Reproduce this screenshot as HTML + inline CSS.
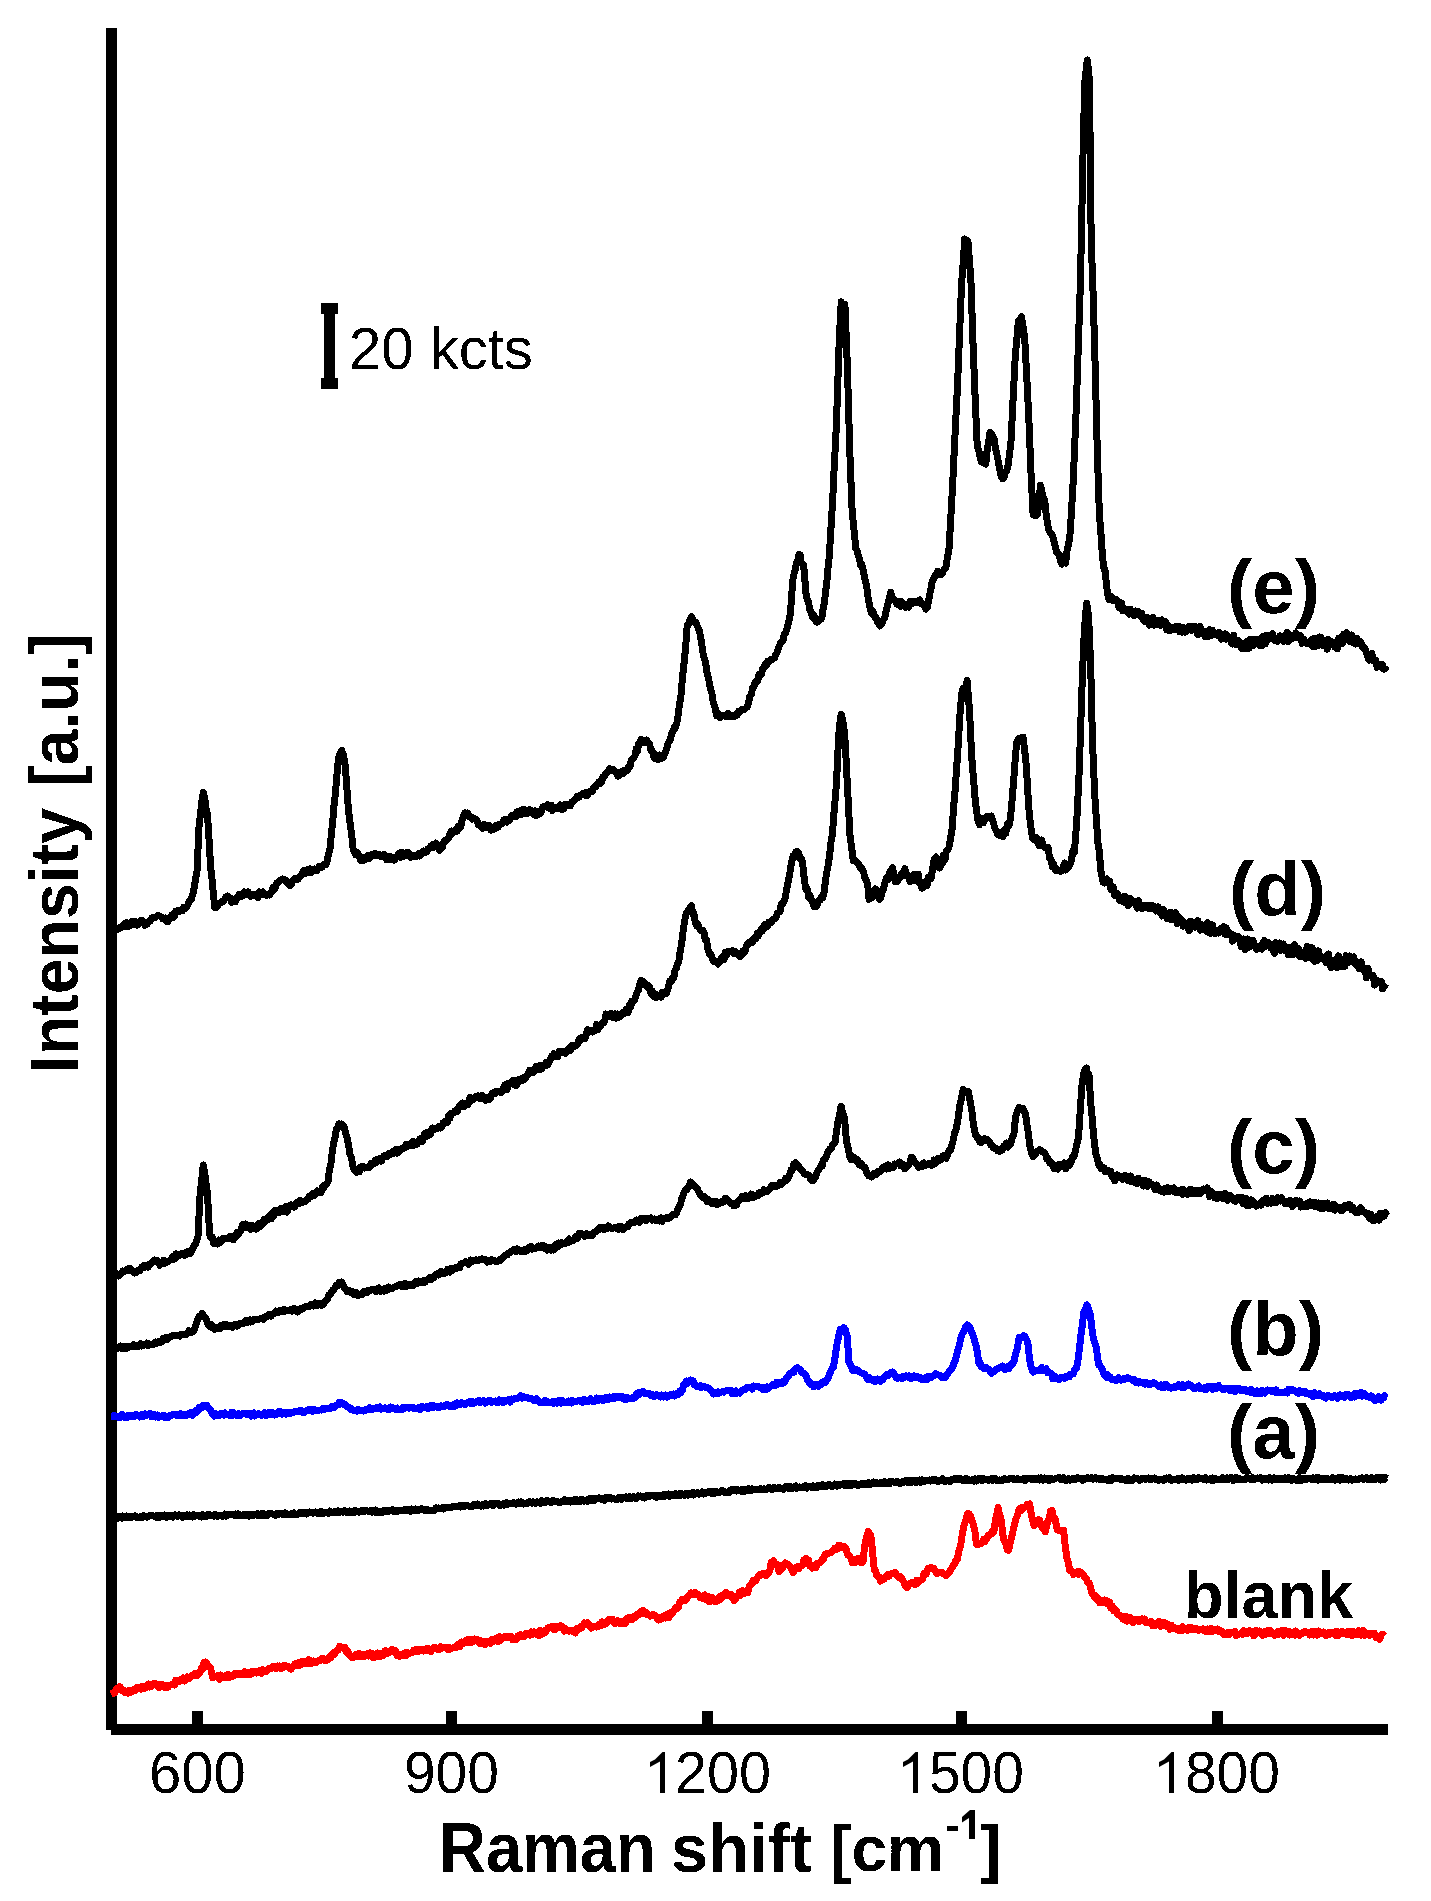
<!DOCTYPE html>
<html><head><meta charset="utf-8"><title>Raman spectra</title>
<style>html,body{margin:0;padding:0;background:#fff;width:1431px;height:1901px;overflow:hidden}svg{display:block}</style>
</head><body>
<svg width="1431" height="1901" viewBox="0 0 1431 1901"><defs><filter id="crisp" x="-10%" y="-10%" width="120%" height="120%"><feComponentTransfer><feFuncA type="discrete" tableValues="0 1"/></feComponentTransfer></filter></defs>
<rect x="0" y="0" width="1431" height="1901" fill="#fff"/>
<polyline points="111.0,930.0 112.3,928.1 113.5,931.6 114.8,931.1 116.0,928.5 117.3,929.6 118.6,928.6 119.9,927.3 121.3,927.3 122.6,925.5 123.8,926.8 125.0,923.1 126.2,922.7 127.4,926.6 128.6,924.4 129.8,925.9 131.0,924.4 132.2,921.6 133.4,923.5 134.6,924.6 135.8,921.8 137.0,925.1 138.2,924.6 139.4,922.3 140.8,920.1 142.2,920.3 143.6,923.1 144.9,925.2 146.3,922.6 147.7,923.4 149.1,920.9 150.4,920.9 151.8,917.9 153.1,917.8 154.5,917.8 155.8,917.0 157.2,916.0 158.5,915.4 159.9,916.2 161.2,916.8 162.6,918.8 163.9,918.7 165.3,918.1 166.6,921.3 167.9,921.8 169.2,919.2 170.5,918.5 171.8,915.0 173.1,917.9 174.4,916.0 175.7,911.1 177.0,911.8 178.3,910.2 179.7,911.4 181.0,910.5 182.3,910.9 183.6,907.5 184.9,908.8 186.3,907.2 187.6,905.5 188.9,901.6 190.2,900.2 191.5,898.8 192.8,894.0 194.2,888.1 195.6,878.7 197.0,871.0 199.1,824.8 200.5,814.4 201.9,800.8 203.3,792.3 204.7,798.3 206.1,808.5 207.5,814.3 209.1,840.1 210.6,866.8 212.0,878.7 213.4,894.2 214.8,907.6 216.1,907.6 217.3,906.4 218.6,903.8 219.8,903.1 221.1,902.4 222.4,901.2 223.6,901.3 224.9,898.7 226.1,896.8 227.4,896.1 228.8,898.1 230.2,897.9 231.6,902.4 232.9,899.0 234.1,901.3 235.4,901.7 236.6,898.7 237.9,896.6 239.2,894.4 240.4,895.1 241.7,896.5 242.9,894.3 244.2,891.9 245.5,892.5 246.7,894.6 248.0,891.8 249.2,893.7 250.5,896.3 251.8,894.8 253.0,894.6 254.3,894.1 255.5,895.9 256.8,896.1 258.0,897.6 259.3,891.9 260.5,895.1 261.8,894.5 263.0,892.0 264.3,894.6 265.5,894.4 266.8,895.4 268.0,894.5 269.3,895.0 270.6,893.5 271.9,891.0 273.2,887.2 274.6,889.6 275.9,886.2 277.2,882.5 278.5,882.2 279.8,880.4 281.2,880.0 282.6,878.9 284.0,879.3 285.3,879.8 286.5,882.0 287.8,883.7 289.0,884.9 290.3,885.6 291.6,884.0 292.8,880.4 294.1,880.1 295.3,878.5 296.6,879.2 297.9,879.3 299.1,877.6 300.4,876.3 301.6,875.0 302.9,872.0 304.1,870.6 305.4,873.6 306.6,872.6 307.9,869.4 309.1,869.0 310.4,868.9 311.6,872.6 312.9,869.9 314.1,869.1 315.4,871.0 316.7,870.9 318.0,868.6 319.3,866.4 320.6,866.1 322.0,867.2 323.3,864.5 324.6,864.3 325.9,864.7 327.3,860.2 328.7,853.3 330.1,847.9 331.4,833.3 332.8,820.5 334.1,804.5 335.4,793.4 336.9,775.0 338.5,757.7 340.1,753.6 341.7,750.4 343.2,754.6 344.8,762.0 346.4,780.9 348.0,803.9 349.3,817.5 350.6,827.0 351.9,836.9 353.2,850.0 354.4,852.1 355.6,854.7 356.8,852.0 358.0,853.5 359.2,855.6 360.4,860.2 361.6,860.5 362.9,857.9 364.2,860.0 365.5,859.1 366.8,857.6 368.1,855.1 369.4,858.3 370.7,856.6 372.0,854.2 373.3,854.6 374.6,853.3 375.9,855.8 377.2,854.7 378.6,855.9 379.9,854.8 381.2,856.7 382.5,856.3 383.8,854.2 385.1,855.8 386.4,859.6 387.8,859.3 389.1,856.6 390.4,859.8 391.7,857.1 393.0,858.4 394.3,860.2 395.5,858.6 396.8,856.4 398.0,855.0 399.3,853.1 400.6,857.2 401.8,852.2 403.1,855.9 404.3,856.1 405.6,853.1 406.9,853.9 408.1,852.3 409.4,856.5 410.6,857.5 411.9,856.5 413.2,855.9 414.4,855.7 415.7,856.8 417.1,855.4 418.4,854.0 419.8,855.9 421.1,854.0 422.5,852.2 423.8,851.1 425.2,852.6 426.6,852.1 428.0,848.7 429.4,848.4 430.7,846.1 432.1,847.6 433.5,844.2 434.7,847.0 436.0,843.0 437.2,844.7 438.4,846.1 439.7,850.3 440.9,848.4 442.2,847.7 443.6,843.0 444.9,840.1 446.3,840.4 447.6,839.0 449.0,837.3 450.3,832.7 451.6,831.1 452.9,833.2 454.2,831.3 455.6,829.5 456.9,831.4 458.2,826.5 459.5,828.4 460.8,826.4 462.2,819.6 463.6,815.5 465.0,812.8 466.4,815.9 467.8,813.0 469.2,816.8 470.6,816.8 472.0,819.0 473.4,818.0 474.6,818.5 475.8,819.6 477.0,820.6 478.3,824.9 479.5,824.7 480.7,825.4 482.0,828.2 483.3,828.2 484.5,824.5 485.8,827.1 487.1,825.0 488.4,825.0 489.6,825.5 490.9,830.1 492.2,828.5 493.4,829.5 494.6,829.1 495.8,825.8 497.0,826.7 498.2,827.0 499.4,824.2 500.6,824.3 501.9,823.8 503.1,821.1 504.4,819.5 505.6,819.7 506.9,822.2 508.2,819.6 509.4,820.7 510.7,817.3 511.9,815.5 513.2,815.9 514.5,816.9 515.7,816.7 517.0,811.7 518.2,814.8 519.5,811.1 520.8,810.7 522.0,814.4 523.3,809.2 524.5,809.8 525.8,810.7 527.1,813.7 528.4,811.0 529.6,809.6 530.9,810.3 532.2,811.0 533.5,814.1 534.7,810.9 536.0,815.7 537.3,813.8 538.5,811.9 539.8,814.0 541.0,812.4 542.2,807.8 543.5,806.4 544.7,806.5 546.0,806.6 547.3,804.8 548.6,808.1 549.9,805.0 551.2,805.1 552.5,810.7 553.8,807.2 555.1,808.6 556.4,808.8 557.6,807.7 558.9,806.6 560.1,804.9 561.4,809.3 562.7,809.3 563.9,809.0 565.2,804.0 566.4,804.2 567.7,805.5 569.1,804.9 570.5,805.7 571.9,802.0 573.3,801.6 574.7,800.2 576.1,798.1 577.5,796.2 578.9,797.3 580.3,795.5 581.7,794.6 583.1,793.2 584.5,795.0 585.8,792.8 587.1,795.8 588.3,791.9 589.6,792.1 590.9,791.1 592.2,791.8 593.4,787.9 594.7,786.5 596.0,786.6 597.4,783.9 598.8,782.1 600.2,783.3 601.6,781.8 603.0,776.8 604.4,776.1 605.7,773.4 607.0,772.7 608.3,771.1 609.6,768.8 611.0,770.6 612.4,769.8 613.8,769.8 615.2,772.2 616.6,772.5 618.0,776.1 619.4,775.5 620.8,772.0 622.2,771.1 623.6,773.4 625.0,770.6 626.4,770.9 627.6,770.3 628.9,766.3 630.1,766.1 631.3,759.8 632.6,759.5 633.8,757.2 635.0,755.9 636.2,748.9 637.5,750.8 638.7,743.5 639.9,743.9 641.1,739.4 642.5,742.8 643.9,742.6 645.3,740.5 646.7,740.0 648.1,743.0 649.5,743.6 650.9,750.2 652.3,750.8 653.7,756.2 655.1,758.8 656.5,754.9 657.9,759.6 659.3,755.0 660.7,756.9 662.1,758.3 663.3,757.4 664.6,753.7 665.8,751.2 667.1,747.7 668.3,742.6 669.5,741.3 670.7,738.3 671.9,732.7 673.1,731.4 674.3,727.2 675.5,727.6 676.7,723.7 678.1,715.5 679.5,704.1 680.9,696.4 682.5,677.2 684.1,662.9 685.7,646.7 687.2,625.2 688.6,624.1 690.0,619.9 691.4,616.8 692.8,618.8 694.1,622.3 695.5,622.0 696.9,625.1 698.3,628.1 699.7,632.0 701.5,642.6 703.3,655.1 704.5,659.1 705.7,663.2 706.9,672.2 708.1,676.8 709.3,682.4 710.5,689.3 711.8,692.5 713.0,701.0 714.2,705.0 715.4,708.7 716.6,715.6 717.8,713.5 719.0,714.2 720.2,717.5 721.5,715.0 722.7,715.0 723.9,715.6 725.3,716.4 726.7,714.5 728.1,713.4 729.5,716.6 730.9,716.6 732.3,716.8 733.5,716.9 734.7,714.9 736.0,715.5 737.2,715.0 738.4,711.4 739.6,712.1 740.8,711.3 742.0,709.0 743.3,709.3 744.5,709.4 745.7,708.3 747.1,707.0 748.5,703.4 749.9,696.1 751.3,694.6 752.7,687.5 754.1,686.5 755.3,681.6 756.5,681.7 757.7,681.4 758.9,674.9 760.2,675.9 761.4,674.2 762.6,668.5 763.8,668.2 765.0,664.7 766.2,665.5 767.4,661.5 768.6,662.2 769.8,661.2 771.0,659.2 772.3,659.5 773.5,658.5 774.7,657.7 775.9,654.2 777.1,652.6 778.3,648.0 779.5,645.6 780.7,642.7 782.0,642.0 783.2,640.3 784.4,633.5 785.6,633.3 787.2,627.9 788.8,621.6 790.4,613.9 792.8,580.0 794.0,574.0 795.2,569.9 796.5,562.8 797.7,561.0 798.9,554.6 800.1,554.7 801.3,562.8 802.5,564.6 803.7,565.5 806.1,594.6 807.3,599.6 808.5,601.7 809.8,609.7 811.0,611.5 812.6,617.5 814.2,615.8 815.8,621.2 817.0,622.1 818.2,621.8 819.5,620.0 820.7,619.5 821.9,617.6 823.1,608.8 824.3,603.2 825.5,592.2 826.7,583.8 827.9,568.9 829.1,558.3 830.3,540.0 831.6,517.6 832.8,497.8 834.0,471.5 835.2,448.3 836.4,425.2 838.8,352.6 840.0,324.9 841.2,301.8 842.4,305.1 843.7,306.3 844.9,304.2 847.3,364.7 848.5,404.7 849.7,449.4 852.1,509.9 853.3,523.4 854.6,535.1 855.8,548.6 857.0,550.0 858.2,554.9 859.4,558.4 860.6,565.4 861.8,564.4 863.0,569.4 864.2,575.2 865.4,581.6 866.6,585.7 867.9,596.4 869.1,603.0 870.3,609.1 871.5,613.4 872.7,611.4 873.9,614.0 875.1,617.8 876.4,618.2 877.6,622.3 878.8,622.3 880.0,626.0 881.2,624.3 882.4,622.1 883.6,619.3 884.8,617.5 886.0,611.5 887.6,605.4 889.2,598.6 890.8,592.2 892.0,597.0 893.2,598.8 894.5,599.9 895.7,601.0 896.9,604.2 898.1,602.7 899.3,601.6 900.5,606.3 901.7,601.6 903.0,605.9 904.2,604.5 905.4,607.4 906.6,606.0 907.8,604.2 909.0,607.1 910.2,601.1 911.4,603.3 912.6,603.5 913.9,601.4 915.1,602.4 916.3,601.1 917.5,601.8 918.7,602.8 919.9,599.9 921.1,603.7 922.3,604.5 923.5,604.3 924.7,605.7 925.9,609.1 927.1,607.9 928.3,602.8 929.5,595.1 930.8,589.9 932.0,582.5 933.4,579.3 934.9,575.8 936.3,575.6 937.5,571.2 938.7,572.2 939.9,573.6 941.1,574.7 942.3,573.5 943.5,570.3 944.7,569.3 946.1,566.5 947.5,556.4 948.9,550.4 951.0,514.6 952.6,485.5 954.2,451.5 955.8,419.2 957.4,388.3 959.5,335.7 961.6,283.1 963.2,262.8 964.7,238.9 966.3,243.6 967.9,241.0 969.5,260.6 971.0,283.1 973.1,346.2 975.2,398.9 977.3,447.2 978.7,449.7 980.2,458.0 981.6,462.0 983.0,462.9 984.4,462.3 985.8,464.1 987.2,449.8 988.6,442.2 990.0,432.5 991.4,434.0 992.8,436.0 994.2,438.8 995.6,449.3 997.0,454.9 998.4,462.0 999.8,469.4 1001.2,476.3 1002.6,478.8 1003.9,477.6 1005.2,472.4 1006.6,471.3 1007.9,466.2 1009.5,454.6 1011.0,440.9 1013.1,398.9 1015.2,356.8 1016.8,340.1 1018.4,321.0 1020.0,319.9 1021.5,316.8 1023.1,326.6 1024.7,337.8 1026.8,377.8 1028.9,419.9 1031.0,472.5 1033.1,514.6 1034.5,515.6 1035.9,515.7 1037.3,514.6 1038.9,503.4 1040.5,485.1 1041.9,492.3 1043.3,497.8 1044.7,499.9 1046.2,514.7 1047.8,525.1 1049.1,531.0 1050.3,532.7 1051.6,533.9 1052.8,536.6 1054.1,541.9 1055.4,547.4 1056.7,552.6 1057.9,553.7 1059.2,554.2 1060.5,560.9 1061.8,564.2 1063.1,561.8 1064.4,562.2 1065.7,563.0 1067.1,550.1 1068.5,544.8 1069.9,535.6 1071.5,511.4 1073.1,483.0 1074.7,445.5 1076.2,409.4 1078.3,346.2 1080.4,283.1 1081.3,240.0 1082.5,180.0 1083.5,130.0 1085.0,80.0 1087.3,60.0 1089.0,75.0 1090.0,130.0 1090.5,180.0 1091.2,240.0 1093.1,293.6 1095.2,367.3 1097.3,451.5 1099.4,514.6 1101.0,534.4 1102.5,556.7 1103.8,567.5 1105.2,571.4 1106.5,585.1 1107.8,594.5 1109.0,599.5 1110.3,598.3 1111.5,596.8 1112.7,600.4 1114.0,600.8 1115.2,600.9 1116.5,599.5 1117.8,600.7 1119.0,607.8 1120.3,603.5 1121.6,603.0 1122.9,610.8 1124.1,609.3 1125.4,609.1 1126.7,611.4 1127.9,611.7 1129.1,614.0 1130.4,609.1 1131.6,613.7 1132.8,614.5 1134.0,615.6 1135.3,611.0 1136.5,614.3 1137.7,613.5 1139.0,612.0 1140.3,615.9 1141.6,613.3 1143.0,619.8 1144.3,621.4 1145.6,617.4 1146.9,617.4 1148.2,620.8 1149.4,625.2 1150.7,623.0 1151.9,624.5 1153.1,617.2 1154.3,625.3 1155.6,623.0 1156.8,620.3 1158.0,621.6 1159.2,624.8 1160.5,625.2 1161.7,619.9 1162.9,622.9 1164.2,624.9 1165.5,621.4 1166.8,629.7 1168.2,625.5 1169.5,630.7 1170.8,629.8 1172.1,629.4 1173.4,629.2 1174.6,627.1 1175.8,629.6 1177.1,626.1 1178.3,626.1 1179.5,631.6 1180.7,628.4 1181.9,632.2 1183.1,627.4 1184.3,632.0 1185.6,632.1 1186.8,628.3 1188.0,630.2 1189.2,626.5 1190.5,629.4 1191.7,630.4 1192.9,626.7 1194.1,627.7 1195.3,626.5 1196.6,631.8 1197.8,634.7 1199.0,628.3 1200.2,626.6 1201.5,633.2 1202.7,631.3 1203.9,634.7 1205.2,636.5 1206.4,633.4 1207.6,631.2 1208.8,636.3 1210.1,629.7 1211.3,635.6 1212.5,630.2 1213.7,633.5 1215.0,634.8 1216.2,634.0 1217.4,635.5 1218.7,632.5 1219.9,633.3 1221.2,639.3 1222.4,636.0 1223.7,637.3 1225.0,633.9 1226.2,639.1 1227.5,635.5 1228.7,638.3 1230.0,637.6 1231.3,642.4 1232.5,644.0 1233.8,635.3 1235.0,643.5 1236.3,644.8 1237.6,640.2 1238.8,641.5 1240.1,644.2 1241.3,648.4 1242.6,644.9 1243.8,643.8 1245.1,648.5 1246.3,647.2 1247.6,641.0 1248.8,648.6 1250.1,639.4 1251.3,640.6 1252.6,645.8 1253.8,639.5 1255.1,643.9 1256.4,642.3 1257.6,639.3 1258.9,642.3 1260.1,645.7 1261.4,645.9 1262.7,636.6 1263.9,636.5 1265.2,644.0 1266.4,635.4 1267.7,639.7 1268.9,637.1 1270.2,635.2 1271.4,634.7 1272.6,633.8 1273.8,639.8 1275.1,640.6 1276.3,639.8 1277.5,641.1 1278.7,639.0 1280.0,635.9 1281.2,638.1 1282.4,636.5 1283.6,641.5 1284.9,638.2 1286.1,634.1 1287.3,632.3 1288.5,641.5 1289.8,638.0 1291.0,635.6 1292.2,638.3 1293.4,638.0 1294.6,637.6 1295.9,632.9 1297.1,637.6 1298.3,636.5 1299.6,637.5 1300.8,635.7 1302.1,643.3 1303.3,638.9 1304.6,641.8 1305.8,642.8 1307.1,643.5 1308.3,643.7 1309.6,641.8 1310.9,644.5 1312.1,639.1 1313.4,646.9 1314.6,638.1 1315.9,646.3 1317.2,645.6 1318.4,645.6 1319.7,637.0 1320.9,637.4 1322.2,641.8 1323.5,645.7 1324.7,642.5 1326.0,642.0 1327.2,649.1 1328.5,639.4 1329.8,645.3 1331.0,644.8 1332.3,641.9 1333.5,645.3 1334.8,647.0 1336.1,648.1 1337.4,648.8 1338.7,638.3 1340.0,642.6 1341.4,636.6 1342.7,643.2 1344.0,634.2 1345.3,637.6 1346.6,632.8 1347.8,636.9 1349.1,641.1 1350.3,636.8 1351.6,635.1 1352.9,642.7 1354.1,643.2 1355.4,644.0 1356.6,638.2 1357.9,640.7 1359.3,641.8 1360.7,641.7 1362.1,647.1 1363.4,646.5 1364.8,648.5 1366.2,652.2 1367.6,656.8 1369.0,660.1 1370.4,657.3 1371.8,653.4 1373.2,660.9 1374.6,660.6 1375.9,660.6 1377.2,667.3 1378.5,664.8 1379.8,666.7 1381.0,665.8 1382.3,664.5 1383.6,669.2 1384.9,669.1 1386.2,665.9" fill="none" stroke="#000" stroke-width="7" stroke-linejoin="round" stroke-linecap="butt" shape-rendering="crispEdges"/>
<polyline points="111.0,1276.0 112.3,1278.2 113.5,1277.9 114.8,1273.1 116.0,1273.0 117.3,1275.0 118.7,1276.0 120.0,1274.7 121.4,1273.7 122.7,1271.0 124.1,1271.8 125.4,1271.1 126.8,1269.8 128.1,1270.3 129.3,1268.2 130.6,1269.8 131.8,1269.7 133.1,1271.5 134.4,1273.1 135.6,1272.9 136.9,1270.9 138.1,1270.5 139.4,1270.9 140.7,1268.8 141.9,1266.8 143.2,1265.9 144.4,1267.4 145.7,1265.7 146.9,1265.2 148.2,1267.1 149.4,1264.3 150.7,1263.7 151.9,1262.5 153.2,1261.1 154.5,1260.0 155.8,1261.6 157.2,1260.6 158.5,1262.6 159.8,1265.2 161.1,1263.4 162.4,1262.5 163.6,1260.2 164.8,1263.4 166.1,1262.2 167.3,1261.3 168.5,1261.6 169.8,1260.2 171.0,1259.7 172.2,1256.8 173.4,1259.5 174.7,1258.8 175.9,1253.9 177.1,1255.1 178.3,1256.1 179.6,1255.6 180.8,1253.8 182.0,1253.9 183.2,1253.3 184.4,1255.3 185.7,1252.7 186.9,1254.1 188.1,1251.2 189.4,1253.7 190.6,1253.4 191.8,1250.9 193.0,1247.8 194.3,1245.4 195.5,1244.4 196.8,1240.4 198.0,1236.3 200.1,1194.3 201.7,1179.6 203.3,1165.0 204.7,1173.2 206.1,1183.6 207.5,1194.3 209.6,1234.2 210.9,1237.6 212.2,1237.1 213.5,1243.5 214.8,1243.6 216.2,1241.5 217.6,1244.1 219.0,1240.0 220.4,1242.7 221.8,1240.4 223.2,1238.4 224.5,1238.3 225.7,1238.3 227.0,1238.9 228.2,1238.4 229.5,1236.8 230.8,1236.1 232.0,1237.7 233.3,1239.9 234.5,1238.1 235.8,1237.3 237.1,1232.6 238.3,1234.5 239.6,1231.7 240.8,1230.4 242.1,1225.8 243.4,1224.3 244.6,1227.6 245.9,1224.0 247.1,1227.5 248.4,1225.6 249.7,1225.5 250.9,1229.4 252.2,1225.3 253.4,1227.8 254.7,1227.9 256.0,1229.1 257.3,1224.9 258.6,1223.9 259.9,1226.9 261.2,1223.5 262.5,1224.4 263.8,1219.7 265.1,1221.6 266.4,1219.8 267.6,1217.6 268.9,1219.4 270.1,1215.0 271.4,1218.9 272.7,1212.6 273.9,1215.6 275.2,1210.5 276.4,1210.8 277.7,1211.1 279.0,1212.6 280.3,1208.6 281.6,1208.5 282.9,1211.1 284.3,1209.1 285.6,1206.9 286.9,1212.1 288.2,1209.0 289.5,1206.4 290.8,1205.0 292.1,1206.2 293.4,1207.1 294.8,1207.1 296.1,1202.9 297.4,1203.5 298.7,1203.8 300.0,1200.2 301.3,1201.7 302.6,1202.6 303.9,1201.5 305.3,1201.5 306.6,1199.7 307.9,1199.4 309.2,1196.4 310.5,1197.1 311.8,1195.2 313.1,1193.2 314.4,1195.2 315.7,1192.7 317.0,1190.9 318.3,1192.4 319.6,1192.2 321.0,1192.6 322.4,1186.6 323.8,1187.5 325.2,1184.6 326.6,1183.6 328.0,1181.8 329.4,1169.9 330.8,1164.9 332.2,1152.4 333.6,1143.3 335.0,1137.7 336.4,1129.4 337.7,1127.6 339.0,1123.9 340.4,1125.8 341.7,1124.1 343.1,1125.1 344.4,1127.8 345.8,1133.5 347.2,1137.8 348.6,1145.5 350.0,1154.5 351.4,1157.3 352.8,1165.8 354.2,1170.2 355.5,1169.9 356.8,1172.4 358.1,1171.7 359.4,1171.8 360.6,1166.9 361.9,1167.8 363.2,1166.3 364.5,1168.0 365.8,1167.1 367.1,1167.3 368.4,1167.8 369.7,1166.8 371.0,1163.6 372.3,1164.0 373.6,1164.1 374.9,1160.5 376.2,1162.9 377.5,1159.3 378.8,1160.8 380.1,1158.2 381.4,1161.1 382.8,1157.4 384.1,1155.8 385.4,1155.5 386.7,1156.6 388.0,1154.3 389.2,1153.4 390.5,1154.5 391.7,1153.5 393.0,1151.8 394.3,1153.1 395.5,1149.8 396.8,1153.2 398.0,1152.8 399.3,1149.3 400.6,1150.2 402.0,1148.0 403.3,1148.0 404.7,1148.0 406.0,1144.3 407.4,1146.1 408.7,1146.1 409.9,1145.6 411.2,1142.8 412.4,1141.7 413.6,1145.3 414.9,1142.0 416.1,1142.3 417.3,1144.0 418.5,1141.5 419.8,1138.9 421.0,1139.5 422.2,1141.5 423.5,1136.8 424.8,1133.7 426.0,1136.8 427.2,1132.3 428.5,1132.6 429.8,1134.9 431.0,1133.0 432.2,1128.0 433.5,1130.0 434.9,1129.2 436.3,1128.4 437.7,1128.4 439.1,1126.1 440.5,1128.0 441.9,1126.9 443.2,1122.6 444.5,1122.2 445.8,1121.0 447.1,1122.8 448.5,1115.8 449.8,1118.3 451.1,1113.1 452.4,1113.3 453.7,1112.8 454.9,1110.7 456.2,1110.2 457.4,1111.1 458.7,1107.9 460.0,1105.2 461.2,1104.3 462.5,1103.1 463.7,1106.9 465.0,1103.8 466.3,1103.8 467.6,1104.8 468.9,1102.3 470.2,1097.2 471.6,1100.2 472.9,1100.1 474.2,1098.8 475.5,1096.5 476.8,1096.6 478.0,1095.8 479.2,1096.5 480.5,1098.8 481.8,1095.5 483.0,1097.3 484.2,1097.1 485.5,1100.2 486.8,1099.3 488.0,1097.5 489.3,1099.4 490.6,1098.1 491.9,1093.9 493.2,1092.7 494.6,1093.6 495.9,1091.3 497.2,1091.6 498.5,1091.3 499.8,1091.7 501.0,1092.5 502.3,1089.6 503.5,1090.4 504.8,1085.0 506.1,1085.9 507.3,1089.3 508.6,1083.1 509.8,1084.1 511.1,1083.9 512.4,1080.8 513.7,1080.5 515.0,1085.3 516.4,1085.5 517.7,1082.9 519.0,1079.2 520.3,1079.9 521.6,1080.8 522.9,1077.8 524.2,1079.3 525.5,1078.0 526.9,1075.2 528.2,1074.4 529.5,1070.4 530.8,1071.9 532.1,1070.3 533.4,1072.7 534.7,1070.9 536.0,1066.1 537.4,1068.3 538.7,1069.1 540.0,1065.6 541.3,1069.2 542.6,1066.1 543.9,1064.8 545.1,1065.3 546.4,1062.3 547.6,1065.1 548.9,1062.7 550.1,1060.3 551.4,1056.4 552.6,1057.3 553.9,1053.6 555.1,1055.6 556.4,1055.6 557.6,1056.8 558.9,1051.6 560.1,1053.1 561.4,1052.3 562.7,1051.2 563.9,1052.6 565.2,1053.4 566.4,1051.3 567.7,1049.3 569.0,1048.2 570.3,1050.5 571.6,1045.5 573.0,1047.3 574.3,1045.8 575.6,1045.5 576.9,1045.2 578.2,1042.0 579.5,1038.9 580.8,1040.2 582.1,1037.4 583.5,1037.8 584.8,1038.6 586.1,1035.0 587.4,1029.6 588.7,1031.5 590.0,1030.6 591.3,1031.6 592.6,1032.1 594.0,1029.9 595.3,1030.3 596.6,1024.4 597.9,1029.9 599.2,1026.3 600.6,1025.9 602.0,1023.1 603.4,1023.2 604.7,1021.1 606.1,1014.0 607.5,1014.7 608.8,1017.0 610.0,1016.9 611.3,1013.3 612.5,1017.2 613.8,1016.3 615.1,1013.9 616.3,1018.2 617.6,1014.0 618.8,1017.3 620.1,1016.8 621.4,1015.2 622.7,1012.8 624.0,1013.7 625.4,1011.9 626.7,1008.9 628.0,1012.9 629.3,1005.7 630.6,1007.4 631.9,1001.1 633.1,1001.4 634.4,1000.8 635.6,996.7 636.9,992.7 638.3,990.2 639.7,984.2 641.1,980.1 642.4,982.8 643.6,981.9 644.9,983.0 646.1,986.0 647.4,987.5 648.6,985.7 649.8,987.5 651.0,993.4 652.3,990.9 653.5,996.2 654.7,995.9 656.0,997.6 657.3,994.8 658.5,996.4 659.8,996.9 661.1,997.2 662.4,992.0 663.6,992.0 664.9,993.2 666.2,993.8 667.5,990.4 668.7,986.1 670.0,981.0 671.2,981.6 672.5,978.0 673.8,977.9 675.0,970.4 676.3,968.2 677.5,963.8 678.8,961.3 680.2,951.1 681.6,944.2 683.0,931.9 684.6,921.2 686.2,913.1 687.5,912.3 688.8,909.3 690.1,907.8 691.4,905.7 692.7,914.0 693.9,913.6 695.2,922.0 696.5,925.7 697.7,923.6 699.0,927.5 700.2,930.0 701.5,930.6 702.7,930.3 704.0,932.5 705.3,940.1 706.6,940.2 707.9,949.2 709.2,953.5 710.5,954.2 711.7,956.7 713.0,960.4 714.2,961.6 715.5,961.9 716.7,961.2 718.0,964.0 719.2,960.6 720.4,960.7 721.6,957.6 722.8,956.3 724.0,959.6 725.2,952.1 726.4,955.6 727.6,951.8 728.9,951.3 730.1,951.6 731.4,951.7 732.6,950.4 733.9,953.4 735.1,951.7 736.4,954.0 737.6,953.4 738.9,955.2 740.1,956.8 741.3,955.7 742.6,951.1 743.8,951.3 745.0,952.1 746.2,946.7 747.4,943.8 748.7,943.6 749.9,942.0 751.1,943.0 752.3,942.7 753.6,939.0 754.8,937.3 756.0,938.8 757.2,933.3 758.5,935.8 759.7,933.0 760.9,929.7 762.2,931.2 763.4,927.3 764.7,924.9 765.9,927.4 767.2,926.5 768.5,922.2 769.8,922.3 771.0,922.9 772.3,920.1 773.6,918.9 774.9,918.5 776.1,917.7 777.4,913.3 778.7,912.5 780.0,911.5 781.3,904.0 782.6,903.7 783.9,901.4 785.2,897.6 786.7,889.1 788.1,881.7 789.6,874.9 791.4,863.0 793.1,855.7 794.5,857.5 796.0,851.7 797.4,851.3 798.9,853.8 800.3,859.4 801.8,859.2 803.1,867.4 804.4,880.1 805.9,889.3 807.3,889.0 808.8,897.6 810.0,895.5 811.2,899.3 812.5,900.8 813.7,906.3 814.9,904.6 816.2,906.3 817.5,904.2 818.8,900.6 820.2,900.3 821.5,896.8 822.8,897.6 824.1,892.2 825.4,881.0 826.7,872.4 828.0,866.1 829.5,856.7 830.9,842.5 832.4,834.7 834.1,811.5 835.9,791.0 837.2,768.1 838.5,738.6 839.8,723.3 841.1,714.2 842.9,721.0 844.6,733.4 845.9,755.6 847.2,782.3 848.5,806.6 849.9,834.7 851.6,847.2 853.3,860.9 854.6,860.1 855.9,862.0 857.2,862.4 858.6,863.5 859.9,867.6 861.2,867.9 862.5,869.7 863.8,873.0 865.1,879.2 866.4,880.1 867.8,886.2 869.1,899.3 870.3,894.4 871.5,898.0 872.8,892.5 874.0,893.2 875.2,888.9 876.6,889.4 878.1,896.0 879.5,899.3 880.7,898.3 882.0,890.3 883.2,890.0 884.5,884.8 885.7,880.1 887.1,876.8 888.5,879.3 889.9,871.9 891.3,870.1 892.7,867.9 894.0,875.9 895.3,881.9 896.5,878.7 897.7,881.4 898.9,877.8 900.1,876.1 901.3,874.0 902.5,876.1 903.7,874.5 904.9,868.8 906.2,874.9 907.5,875.0 908.8,877.9 910.1,881.9 911.5,880.7 912.9,875.2 914.3,874.4 915.7,880.5 917.1,874.9 918.3,874.2 919.5,883.5 920.8,883.8 922.0,888.2 923.2,887.1 924.5,882.0 925.8,882.5 927.2,885.3 928.5,877.0 929.8,876.4 931.1,878.4 932.3,870.6 933.5,862.5 934.7,858.8 936.0,857.0 937.2,862.8 938.5,859.0 939.7,868.0 941.0,865.1 942.3,863.5 943.6,855.3 945.0,860.0 946.3,851.3 947.6,850.5 948.9,847.8 950.5,838.8 952.1,828.8 953.7,805.9 955.2,789.4 956.8,765.7 958.4,742.0 960.0,714.4 961.6,694.7 963.0,688.4 964.4,691.4 965.7,687.0 967.1,680.5 969.5,710.5 971.8,757.8 973.4,777.8 975.0,797.3 976.5,810.8 978.1,820.9 979.5,824.8 980.9,818.4 982.3,822.0 983.7,822.5 985.0,818.1 986.2,817.0 987.5,816.0 988.7,816.0 990.0,817.8 991.3,816.1 992.5,820.2 993.8,824.2 995.0,829.0 996.3,830.4 997.6,834.3 999.0,835.2 1000.3,833.8 1001.7,832.3 1003.0,836.7 1004.4,829.9 1005.7,833.6 1007.3,824.5 1008.9,826.1 1010.5,817.8 1012.0,800.9 1013.6,781.5 1015.2,758.9 1016.8,742.0 1018.1,739.9 1019.3,738.1 1020.6,738.5 1021.8,737.5 1023.1,737.3 1024.7,750.5 1026.3,765.7 1028.6,805.2 1029.9,819.2 1031.3,830.3 1032.6,838.3 1033.9,839.5 1035.2,839.1 1036.5,837.8 1037.9,843.1 1039.2,845.8 1040.5,841.5 1041.8,840.1 1043.0,846.1 1044.3,847.3 1045.5,848.1 1046.8,847.8 1048.2,847.8 1049.5,857.8 1050.9,859.0 1052.3,866.7 1053.7,864.4 1055.0,869.1 1056.4,870.6 1057.8,869.9 1059.2,870.7 1060.5,871.5 1061.9,870.6 1063.2,867.8 1064.6,863.0 1065.9,870.0 1067.3,866.7 1068.7,867.2 1070.1,864.5 1071.6,859.2 1073.0,850.6 1074.4,852.5 1076.8,820.9 1079.1,773.6 1080.7,726.2 1082.3,678.9 1083.9,639.5 1085.3,618.2 1086.7,603.2 1088.1,613.3 1089.4,631.6 1091.0,678.9 1092.5,742.0 1093.7,771.1 1094.9,797.3 1096.5,821.4 1098.1,844.6 1099.4,851.8 1100.7,870.5 1102.0,876.2 1103.3,882.6 1104.5,883.0 1105.8,879.6 1107.0,879.0 1108.3,882.5 1109.6,881.1 1110.8,889.5 1112.1,889.9 1113.4,887.0 1114.7,895.5 1115.9,893.6 1117.2,893.7 1118.5,895.4 1119.7,900.5 1121.0,899.8 1122.2,899.5 1123.5,902.0 1124.8,896.3 1126.0,902.9 1127.2,898.3 1128.5,905.6 1129.8,898.1 1131.0,899.6 1132.2,902.1 1133.5,901.9 1134.7,901.2 1136.0,903.2 1137.2,908.2 1138.4,900.7 1139.6,907.6 1140.8,907.2 1142.1,908.8 1143.3,905.5 1144.5,906.1 1145.8,905.4 1147.0,907.4 1148.2,908.2 1149.5,905.8 1150.7,905.4 1152.0,908.9 1153.2,906.0 1154.5,909.5 1155.8,910.9 1157.0,908.3 1158.3,907.0 1159.5,912.3 1160.8,911.4 1162.1,916.0 1163.3,909.3 1164.6,914.3 1165.8,915.3 1167.1,918.4 1168.4,916.6 1169.6,912.8 1170.9,912.2 1172.1,920.0 1173.4,916.6 1174.6,915.2 1175.8,912.7 1177.1,923.5 1178.3,916.6 1179.5,918.8 1180.7,919.7 1181.9,919.9 1183.1,926.2 1184.3,922.6 1185.6,924.7 1186.8,925.3 1188.0,927.1 1189.2,930.8 1190.5,921.1 1191.7,927.5 1192.9,922.1 1194.1,922.1 1195.3,927.3 1196.6,924.4 1197.8,920.6 1199.0,926.6 1200.2,930.3 1201.5,926.9 1202.7,925.0 1203.9,925.4 1205.2,929.4 1206.4,931.2 1207.6,922.6 1208.8,924.8 1210.1,933.2 1211.3,933.1 1212.5,924.9 1213.7,931.3 1215.0,933.8 1216.2,930.9 1217.4,930.2 1218.7,933.0 1219.9,931.1 1221.2,928.0 1222.4,928.0 1223.7,926.5 1225.0,934.1 1226.2,928.1 1227.5,934.2 1228.7,931.8 1230.0,933.4 1231.3,933.7 1232.5,941.2 1233.8,935.2 1235.0,937.3 1236.3,937.2 1237.6,936.2 1238.8,937.4 1240.1,942.2 1241.3,946.8 1242.6,943.9 1243.9,939.0 1245.2,949.7 1246.5,946.5 1247.7,939.0 1249.0,947.3 1250.3,943.6 1251.6,945.2 1252.9,940.2 1254.2,945.5 1255.4,945.8 1256.7,949.2 1258.0,946.8 1259.3,946.0 1260.6,948.7 1261.8,949.2 1263.1,942.9 1264.3,940.6 1265.6,946.4 1266.9,942.2 1268.1,942.5 1269.4,944.9 1270.6,947.7 1271.9,948.9 1273.2,949.4 1274.4,953.3 1275.7,942.8 1276.9,948.7 1278.2,948.1 1279.5,943.0 1280.7,950.5 1282.0,947.7 1283.2,944.0 1284.5,946.3 1285.8,951.0 1287.0,948.7 1288.3,954.9 1289.5,947.4 1290.8,947.4 1292.1,955.0 1293.3,951.1 1294.6,944.8 1295.8,953.6 1297.1,950.1 1298.3,948.6 1299.6,956.5 1300.8,952.8 1302.1,955.3 1303.3,956.9 1304.6,952.1 1305.8,958.4 1307.1,946.5 1308.3,950.9 1309.6,953.3 1310.9,958.1 1312.1,947.7 1313.4,956.8 1314.6,961.5 1315.9,958.2 1317.2,960.6 1318.4,950.7 1319.7,957.2 1320.9,958.5 1322.2,957.5 1323.5,957.2 1324.7,957.5 1326.0,962.9 1327.2,955.1 1328.5,954.0 1329.8,961.9 1331.0,967.4 1332.3,966.0 1333.5,964.5 1334.8,962.7 1336.1,959.7 1337.3,967.7 1338.6,955.9 1339.8,958.5 1341.1,965.5 1342.4,966.8 1343.6,959.9 1344.9,966.5 1346.1,955.6 1347.4,960.6 1348.7,962.5 1349.9,956.0 1351.2,958.9 1352.4,958.9 1353.7,957.0 1355.0,963.1 1356.2,965.0 1357.5,962.7 1358.7,968.3 1360.0,966.9 1361.3,961.8 1362.6,969.2 1363.9,970.4 1365.2,969.8 1366.5,977.9 1367.8,968.1 1369.1,973.2 1370.4,975.3 1371.8,975.8 1373.2,975.6 1374.6,985.0 1376.0,980.5 1377.4,980.8 1378.8,981.6 1380.0,981.1 1381.3,981.4 1382.5,988.9 1383.7,987.2 1385.0,985.4 1386.2,983.7" fill="none" stroke="#000" stroke-width="7" stroke-linejoin="round" stroke-linecap="butt" shape-rendering="crispEdges"/>
<polyline points="111.0,1349.0 112.2,1348.0 113.5,1348.8 114.7,1348.1 115.9,1348.7 117.2,1348.6 118.4,1348.0 119.7,1346.4 120.9,1346.0 122.2,1348.5 123.4,1346.4 124.7,1346.1 126.0,1348.4 127.2,1346.5 128.5,1347.5 129.7,1346.1 131.0,1346.0 132.2,1346.4 133.4,1344.7 134.7,1346.2 135.9,1346.8 137.1,1345.6 138.3,1346.2 139.5,1345.9 140.7,1343.8 141.9,1346.0 143.2,1345.4 144.4,1344.3 145.6,1344.9 146.9,1343.1 148.1,1345.5 149.4,1343.9 150.6,1344.4 151.9,1344.6 153.2,1343.7 154.4,1344.1 155.7,1342.1 156.9,1343.1 158.2,1341.8 159.5,1341.1 160.7,1342.2 162.0,1341.5 163.2,1338.3 164.5,1337.9 165.8,1337.7 167.0,1339.6 168.3,1337.3 169.5,1337.5 170.8,1336.5 172.1,1335.6 173.4,1336.0 174.7,1335.3 176.1,1335.0 177.4,1335.5 178.7,1335.2 180.0,1336.0 181.3,1334.4 182.6,1334.6 183.8,1335.0 185.1,1334.3 186.3,1334.4 187.6,1332.9 188.9,1330.7 190.1,1332.7 191.4,1332.6 192.6,1332.0 193.9,1330.2 195.3,1326.6 196.6,1323.3 198.0,1318.7 199.4,1316.0 200.8,1316.4 202.2,1313.5 203.5,1316.1 204.8,1317.5 206.2,1319.1 207.5,1322.9 208.7,1325.2 209.9,1326.7 211.2,1324.6 212.4,1328.1 213.6,1327.8 214.8,1329.2 216.1,1327.6 217.3,1327.6 218.6,1328.9 219.8,1328.8 221.1,1325.5 222.4,1327.1 223.6,1324.7 224.9,1326.6 226.1,1324.8 227.4,1325.0 228.7,1326.4 230.0,1326.9 231.3,1325.4 232.7,1327.2 234.0,1325.0 235.3,1324.3 236.6,1326.2 237.9,1326.0 239.2,1323.7 240.5,1323.6 241.8,1323.7 243.2,1323.8 244.5,1321.5 245.8,1320.5 247.1,1322.7 248.4,1320.8 249.7,1319.9 250.9,1322.0 252.2,1321.6 253.4,1319.5 254.6,1319.6 255.9,1319.6 257.1,1319.8 258.4,1319.5 259.6,1319.1 260.9,1318.7 262.2,1318.6 263.4,1319.2 264.7,1317.2 265.9,1316.4 267.2,1316.9 268.5,1314.6 269.7,1314.4 271.0,1316.2 272.2,1314.1 273.5,1313.5 274.8,1313.4 276.0,1311.1 277.3,1312.2 278.5,1312.5 279.8,1310.2 281.1,1312.0 282.3,1311.7 283.6,1309.4 284.8,1311.1 286.1,1310.3 287.4,1310.2 288.6,1310.9 289.9,1309.8 291.1,1311.0 292.4,1311.2 293.7,1308.6 294.9,1308.7 296.2,1310.9 297.4,1312.0 298.7,1310.3 300.0,1308.9 301.2,1309.1 302.5,1309.1 303.7,1307.6 305.0,1307.2 306.3,1306.5 307.5,1306.2 308.8,1306.5 310.0,1304.9 311.3,1305.1 312.6,1304.5 313.8,1305.9 315.1,1303.0 316.3,1304.9 317.6,1305.4 318.8,1303.7 320.1,1303.3 321.3,1305.3 322.6,1303.1 323.8,1304.0 325.1,1301.0 326.3,1300.0 327.6,1299.1 328.8,1295.0 330.1,1294.6 331.4,1292.1 332.6,1290.2 333.9,1290.2 335.1,1286.9 336.4,1285.2 337.7,1285.7 339.0,1282.4 340.4,1282.2 341.7,1282.0 343.0,1284.9 344.3,1288.1 345.6,1288.9 346.9,1291.4 348.2,1290.7 349.4,1290.6 350.7,1292.5 351.9,1291.5 353.2,1294.2 354.5,1294.6 355.7,1292.4 357.0,1293.1 358.2,1295.4 359.5,1294.6 360.8,1294.6 362.1,1294.7 363.4,1292.4 364.8,1291.1 366.1,1291.2 367.4,1292.6 368.7,1290.1 370.0,1290.4 371.2,1289.7 372.5,1289.9 373.8,1289.8 375.0,1289.7 376.2,1291.5 377.5,1288.5 378.8,1287.8 380.0,1291.3 381.2,1291.0 382.5,1289.4 383.8,1291.0 385.0,1288.7 386.3,1290.4 387.5,1290.1 388.8,1287.1 390.1,1288.9 391.3,1289.0 392.6,1288.1 393.8,1287.3 395.1,1287.0 396.4,1285.9 397.6,1285.9 398.9,1285.2 400.1,1284.3 401.4,1286.1 402.7,1284.7 403.9,1286.5 405.2,1283.2 406.4,1286.3 407.7,1284.5 408.9,1285.1 410.1,1285.9 411.4,1285.7 412.6,1284.0 413.8,1285.2 415.1,1283.6 416.3,1281.1 417.5,1283.6 418.7,1281.0 420.0,1281.2 421.2,1282.3 422.4,1281.4 423.6,1280.7 424.9,1282.4 426.1,1280.8 427.3,1280.0 428.6,1278.7 429.8,1277.7 431.1,1279.4 432.3,1277.2 433.6,1277.7 434.8,1275.3 436.1,1274.0 437.3,1274.7 438.6,1275.1 439.8,1273.2 441.1,1271.6 442.3,1273.7 443.6,1273.9 444.8,1273.2 446.1,1272.9 447.4,1269.4 448.6,1271.5 449.9,1272.2 451.1,1268.6 452.4,1270.1 453.6,1268.6 454.8,1267.9 456.1,1268.4 457.3,1267.3 458.5,1266.9 459.8,1267.5 461.0,1263.8 462.2,1263.4 463.4,1263.1 464.7,1262.4 465.9,1261.6 467.1,1262.7 468.4,1264.3 469.6,1263.5 470.9,1260.1 472.1,1261.5 473.4,1260.4 474.7,1260.1 475.9,1259.9 477.2,1260.8 478.4,1260.3 479.7,1259.6 481.0,1259.3 482.3,1258.9 483.6,1259.7 484.9,1259.1 486.2,1261.1 487.5,1262.1 488.8,1260.9 490.1,1261.7 491.5,1259.8 492.9,1260.0 494.3,1260.6 495.7,1261.4 497.1,1261.9 498.5,1260.6 499.8,1259.2 501.0,1260.0 502.3,1258.3 503.5,1256.6 504.8,1255.4 506.1,1254.9 507.3,1254.9 508.6,1252.8 509.8,1252.9 511.1,1251.2 512.4,1250.9 513.6,1249.9 514.9,1251.0 516.1,1251.6 517.4,1248.9 518.7,1250.2 519.9,1250.1 521.2,1251.9 522.4,1252.0 523.7,1250.1 524.9,1249.2 526.2,1251.1 527.4,1250.3 528.6,1247.7 529.8,1248.2 531.0,1246.5 532.3,1249.0 533.5,1248.0 534.7,1248.6 536.0,1247.9 537.2,1247.0 538.4,1246.0 539.6,1247.4 540.9,1247.1 542.1,1245.6 543.4,1248.0 544.6,1246.0 545.9,1247.0 547.1,1250.0 548.4,1247.4 549.6,1248.0 550.9,1250.1 552.2,1247.5 553.5,1249.9 554.8,1246.0 556.1,1244.4 557.5,1247.0 558.8,1243.0 560.1,1245.2 561.4,1242.8 562.7,1243.2 563.9,1243.6 565.2,1243.8 566.4,1241.9 567.7,1242.5 569.0,1239.0 570.2,1241.8 571.5,1240.4 572.7,1240.9 574.0,1239.7 575.3,1237.0 576.5,1238.6 577.8,1238.4 579.0,1233.6 580.3,1234.4 581.6,1233.8 582.9,1234.9 584.2,1236.2 585.5,1233.8 586.9,1233.7 588.2,1234.1 589.5,1235.9 590.8,1235.5 592.1,1235.7 593.4,1233.2 594.7,1232.2 596.0,1231.4 597.4,1230.2 598.7,1229.6 600.0,1227.2 601.3,1228.1 602.7,1227.9 604.1,1229.8 605.5,1227.2 606.8,1228.5 608.2,1225.8 609.6,1227.1 610.8,1228.0 612.0,1228.4 613.3,1228.1 614.5,1227.5 615.7,1227.4 617.0,1228.2 618.2,1229.4 619.4,1226.2 620.6,1226.1 621.8,1229.0 623.1,1229.8 624.3,1228.1 625.5,1227.4 626.7,1226.4 627.9,1226.8 629.1,1223.7 630.3,1223.4 631.5,1222.3 632.7,1222.9 634.0,1222.8 635.3,1221.0 636.6,1220.1 638.0,1221.6 639.3,1222.3 640.6,1218.8 641.9,1220.1 643.2,1218.7 644.5,1218.5 645.7,1220.7 647.0,1219.7 648.2,1218.5 649.5,1218.5 650.8,1217.8 652.0,1220.1 653.3,1219.9 654.5,1219.1 655.8,1220.8 657.1,1219.8 658.4,1219.3 659.6,1221.0 660.9,1217.8 662.2,1221.3 663.5,1218.6 664.7,1218.8 666.0,1217.9 667.3,1217.7 668.6,1218.4 670.0,1217.6 671.3,1215.7 672.7,1214.6 674.0,1214.9 675.4,1214.8 676.7,1212.4 678.0,1208.6 679.2,1206.7 680.5,1204.4 681.7,1198.8 683.0,1195.6 684.2,1192.1 685.5,1189.9 686.7,1189.8 687.9,1187.3 689.2,1186.4 690.4,1182.0 691.8,1185.2 693.2,1184.1 694.5,1185.5 695.9,1187.4 697.3,1188.7 698.7,1191.8 700.1,1194.1 701.5,1196.2 702.9,1197.8 704.3,1196.3 705.7,1198.8 707.1,1201.4 708.5,1199.7 709.9,1201.1 711.3,1203.4 712.7,1203.2 714.1,1201.3 715.5,1201.3 716.9,1204.7 718.3,1202.2 719.7,1203.2 721.1,1201.8 722.5,1202.2 723.9,1201.9 725.3,1198.1 726.7,1199.7 728.1,1200.2 729.5,1201.8 730.9,1203.3 732.3,1203.2 733.7,1205.8 735.1,1204.8 736.5,1205.1 737.9,1201.1 739.3,1200.4 740.7,1198.8 741.9,1196.7 743.2,1197.0 744.4,1198.5 745.7,1195.5 746.9,1198.8 748.2,1198.5 749.4,1196.2 750.8,1194.1 752.2,1197.9 753.6,1195.1 755.0,1196.8 756.4,1195.3 757.6,1195.8 758.9,1192.9 760.1,1193.9 761.4,1193.1 762.6,1193.0 763.9,1189.7 765.1,1190.1 766.4,1190.8 767.6,1191.3 768.9,1189.4 770.1,1188.3 771.4,1185.8 772.6,1187.1 773.9,1186.6 775.1,1185.4 776.4,1186.6 777.6,1185.9 778.9,1184.9 780.1,1182.6 781.4,1184.3 782.6,1183.1 784.0,1182.1 785.4,1178.4 786.8,1180.2 788.2,1177.5 789.6,1175.2 791.1,1169.6 792.5,1169.7 794.0,1163.9 795.4,1162.7 796.9,1164.2 798.3,1165.6 799.6,1168.4 801.0,1169.6 802.3,1171.1 803.6,1172.6 804.8,1174.3 806.0,1174.4 807.2,1174.7 808.4,1175.0 809.6,1175.4 810.8,1179.6 812.0,1180.8 813.2,1180.5 814.4,1178.4 815.6,1177.1 816.9,1173.0 818.1,1170.2 819.3,1169.1 820.7,1166.1 822.1,1166.1 823.5,1159.5 824.9,1159.4 826.3,1156.9 828.0,1151.7 829.8,1149.0 831.1,1148.8 832.4,1145.2 833.7,1143.6 835.0,1142.9 836.3,1132.8 837.6,1123.7 839.4,1115.2 841.1,1106.2 842.9,1113.7 844.6,1118.4 846.4,1141.1 848.1,1148.3 849.9,1156.9 851.1,1159.4 852.3,1156.3 853.6,1157.8 854.8,1157.6 856.0,1160.4 857.4,1159.6 858.8,1164.3 860.2,1165.2 861.6,1163.6 863.0,1166.5 864.4,1166.8 865.8,1169.9 867.2,1173.5 868.6,1175.8 870.0,1176.1 871.4,1177.0 872.8,1175.9 874.1,1173.2 875.5,1174.1 876.9,1174.3 878.3,1171.5 879.7,1172.0 881.1,1171.0 882.5,1167.8 883.9,1168.2 885.3,1166.5 886.7,1169.0 888.1,1164.7 889.5,1168.5 890.9,1166.5 892.1,1168.0 893.4,1167.7 894.6,1164.0 895.9,1164.3 897.1,1163.8 898.4,1163.5 899.6,1162.1 900.8,1165.9 902.1,1165.6 903.3,1164.7 904.6,1168.9 905.8,1168.2 907.2,1166.0 908.6,1164.6 909.9,1163.1 911.3,1157.1 912.7,1157.7 913.9,1161.1 915.2,1162.5 916.4,1163.5 917.7,1165.6 918.9,1167.4 920.1,1166.7 921.4,1164.7 922.6,1166.1 923.9,1162.8 925.1,1164.9 926.4,1165.2 927.6,1163.9 928.9,1163.2 930.2,1163.5 931.5,1165.3 932.8,1164.6 934.0,1160.0 935.3,1163.3 936.6,1161.9 937.9,1158.3 939.2,1159.7 940.5,1160.1 941.9,1157.5 943.3,1155.6 944.7,1157.1 946.1,1158.3 947.5,1154.8 948.8,1150.7 950.1,1150.8 951.4,1146.8 952.7,1142.6 954.5,1133.5 956.2,1128.6 958.0,1119.3 959.7,1105.9 961.5,1098.2 963.2,1089.3 964.5,1092.4 965.8,1091.9 967.1,1092.6 968.4,1091.9 970.1,1100.6 971.9,1111.1 973.2,1122.5 974.5,1130.4 975.7,1135.4 977.0,1137.4 978.2,1137.3 979.5,1141.7 980.7,1142.6 982.0,1142.1 983.3,1139.4 984.6,1138.5 985.9,1140.8 987.2,1139.4 988.5,1141.2 989.8,1142.1 991.1,1145.2 992.4,1146.1 993.6,1148.1 994.9,1148.0 996.1,1148.2 997.4,1150.5 998.6,1149.3 999.9,1151.3 1001.2,1149.6 1002.5,1149.8 1003.8,1146.1 1005.1,1145.2 1006.4,1143.0 1007.8,1147.2 1009.1,1145.9 1010.4,1144.3 1012.1,1138.3 1013.9,1133.9 1015.6,1116.4 1017.4,1111.3 1019.1,1107.7 1020.4,1108.7 1021.7,1110.0 1023.0,1108.5 1024.3,1111.1 1025.7,1115.0 1027.0,1125.1 1028.3,1132.9 1029.6,1144.3 1031.3,1152.2 1033.1,1156.6 1034.4,1153.4 1035.7,1154.3 1037.0,1151.6 1038.3,1150.7 1039.6,1149.5 1040.9,1150.5 1042.1,1151.6 1043.3,1151.9 1044.6,1152.7 1045.8,1155.0 1047.0,1159.2 1048.4,1159.0 1049.8,1163.0 1051.2,1162.2 1052.6,1163.8 1054.0,1168.8 1055.3,1168.1 1056.5,1167.5 1057.8,1169.0 1059.0,1164.4 1060.3,1166.3 1061.5,1165.9 1062.8,1166.2 1064.2,1163.0 1065.6,1168.8 1067.0,1163.9 1068.4,1162.9 1069.8,1165.3 1071.1,1162.1 1072.4,1157.0 1073.7,1156.9 1075.0,1153.1 1076.8,1144.3 1078.5,1137.4 1080.2,1111.1 1082.0,1084.9 1083.5,1074.6 1085.1,1069.2 1086.4,1068.0 1087.7,1074.2 1089.0,1074.5 1090.7,1102.4 1092.0,1115.8 1093.3,1132.1 1094.7,1145.4 1096.0,1154.8 1097.3,1158.1 1098.6,1164.7 1099.9,1164.0 1101.2,1168.8 1102.6,1167.5 1104.0,1167.9 1105.4,1171.9 1106.8,1171.0 1108.2,1170.5 1109.5,1171.2 1110.8,1171.3 1112.1,1177.0 1113.4,1177.5 1114.7,1180.9 1115.9,1178.6 1117.2,1174.9 1118.4,1175.4 1119.7,1176.0 1120.9,1176.8 1122.2,1179.3 1123.6,1175.8 1125.0,1175.6 1126.4,1179.3 1127.8,1180.6 1129.2,1177.5 1130.5,1176.0 1131.8,1181.8 1133.1,1179.0 1134.4,1181.8 1135.7,1183.1 1137.0,1183.8 1138.3,1178.1 1139.6,1181.9 1140.9,1180.9 1142.2,1183.3 1143.5,1186.0 1144.8,1180.4 1146.2,1182.1 1147.5,1186.3 1148.8,1181.5 1150.1,1184.5 1151.4,1184.3 1152.7,1184.5 1154.0,1187.4 1155.3,1189.7 1156.6,1185.0 1157.9,1189.6 1159.2,1190.1 1160.5,1189.0 1161.7,1191.4 1162.9,1189.6 1164.2,1192.2 1165.4,1188.4 1166.6,1188.8 1167.8,1187.6 1169.0,1191.6 1170.3,1189.6 1171.5,1188.2 1172.7,1189.9 1173.9,1187.9 1175.1,1192.2 1176.4,1191.7 1177.6,1192.8 1178.8,1190.8 1180.0,1191.9 1181.2,1189.9 1182.5,1194.2 1183.7,1189.6 1184.9,1193.4 1186.2,1192.8 1187.5,1194.6 1188.8,1193.7 1190.2,1189.2 1191.5,1189.9 1192.8,1193.9 1194.1,1192.2 1195.4,1190.8 1196.7,1193.4 1198.0,1193.3 1199.3,1190.1 1200.7,1193.2 1202.0,1191.9 1203.3,1188.9 1204.6,1189.1 1205.9,1189.9 1207.1,1187.9 1208.4,1191.4 1209.6,1196.6 1210.9,1191.5 1212.1,1196.0 1213.4,1193.7 1214.6,1197.7 1215.9,1194.5 1217.1,1198.7 1218.4,1195.6 1219.7,1194.1 1221.0,1194.8 1222.2,1198.3 1223.5,1197.8 1224.8,1193.5 1226.1,1195.0 1227.3,1200.4 1228.6,1196.9 1229.8,1195.2 1231.0,1198.1 1232.3,1197.4 1233.5,1200.4 1234.7,1199.4 1235.9,1201.2 1237.1,1199.6 1238.4,1197.4 1239.6,1197.6 1240.8,1200.4 1242.1,1197.6 1243.3,1203.5 1244.6,1198.4 1245.9,1198.1 1247.2,1205.5 1248.4,1200.0 1249.7,1205.6 1251.0,1199.8 1252.3,1203.0 1253.5,1201.5 1254.8,1203.9 1256.1,1206.1 1257.3,1204.1 1258.6,1204.0 1259.9,1204.6 1261.2,1205.1 1262.4,1200.8 1263.7,1202.5 1265.0,1200.9 1266.3,1198.1 1267.5,1203.3 1268.8,1200.4 1270.1,1201.2 1271.3,1203.0 1272.6,1198.4 1273.9,1201.0 1275.2,1200.5 1276.4,1202.6 1277.7,1197.6 1279.0,1199.8 1280.3,1200.9 1281.5,1197.8 1282.8,1201.2 1284.0,1201.8 1285.2,1203.4 1286.4,1201.2 1287.6,1203.2 1288.8,1203.1 1290.0,1200.2 1291.3,1201.5 1292.5,1206.7 1293.7,1201.8 1294.9,1202.7 1296.1,1200.2 1297.3,1201.5 1298.5,1203.9 1299.8,1201.1 1301.0,1207.0 1302.3,1205.2 1303.6,1206.2 1304.9,1206.9 1306.1,1203.8 1307.4,1206.2 1308.7,1202.9 1310.0,1201.8 1311.2,1205.8 1312.5,1202.1 1313.7,1205.7 1314.9,1206.4 1316.2,1203.0 1317.4,1205.7 1318.6,1203.1 1319.8,1208.2 1321.0,1207.9 1322.3,1203.2 1323.5,1208.7 1324.7,1205.6 1326.0,1203.4 1327.2,1203.0 1328.5,1208.3 1329.8,1205.2 1331.1,1207.3 1332.3,1208.6 1333.6,1204.1 1334.9,1210.1 1336.2,1206.7 1337.4,1208.2 1338.7,1209.1 1340.0,1207.7 1341.2,1210.8 1342.5,1210.6 1343.8,1206.8 1345.1,1205.1 1346.3,1206.5 1347.6,1207.3 1348.9,1204.4 1350.2,1204.9 1351.4,1209.7 1352.7,1207.4 1354.0,1209.6 1355.3,1212.4 1356.6,1212.9 1357.9,1212.6 1359.2,1209.0 1360.5,1207.8 1361.8,1209.6 1363.1,1211.7 1364.3,1212.1 1365.6,1213.3 1366.8,1214.1 1368.0,1213.3 1369.2,1218.1 1370.5,1214.1 1371.7,1216.3 1372.9,1220.5 1374.2,1220.6 1375.4,1218.7 1376.7,1216.6 1377.9,1215.8 1379.2,1220.1 1380.4,1213.1 1381.7,1213.7 1382.9,1216.6 1384.2,1216.3 1385.4,1212.8 1386.7,1215.2" fill="none" stroke="#000" stroke-width="7" stroke-linejoin="round" stroke-linecap="butt" shape-rendering="crispEdges"/>
<polyline points="111.0,1517.5 112.4,1517.4 113.8,1517.1 115.3,1516.5 116.7,1517.3 117.9,1518.2 119.2,1516.1 120.4,1517.2 121.6,1518.1 122.8,1516.1 124.1,1517.3 125.3,1517.4 126.5,1516.0 127.7,1516.7 129.0,1517.5 130.2,1516.9 131.4,1517.5 132.6,1516.1 133.9,1516.3 135.1,1515.9 136.3,1516.9 137.5,1517.8 138.8,1517.0 140.0,1517.4 141.2,1516.4 142.4,1517.3 143.7,1515.7 144.9,1516.1 146.1,1517.0 147.3,1517.1 148.6,1516.4 149.8,1515.5 151.0,1515.9 152.2,1515.8 153.5,1515.9 154.7,1516.4 155.9,1517.1 157.1,1515.6 158.3,1517.3 159.5,1517.3 160.7,1515.2 161.9,1516.0 163.2,1516.3 164.4,1515.1 165.6,1516.1 166.8,1517.2 168.0,1515.3 169.2,1516.4 170.4,1515.3 171.6,1516.4 172.8,1517.1 174.0,1515.4 175.2,1514.9 176.4,1515.1 177.7,1516.2 178.9,1514.9 180.1,1515.0 181.3,1516.0 182.5,1517.1 183.7,1515.8 184.9,1515.7 186.1,1516.3 187.3,1515.0 188.5,1516.1 189.7,1515.1 190.9,1516.2 192.2,1517.0 193.4,1514.8 194.6,1516.0 195.8,1516.1 197.0,1515.0 198.2,1515.2 199.4,1515.8 200.6,1517.0 201.8,1517.0 203.0,1514.8 204.3,1516.2 205.5,1516.8 206.7,1515.0 207.9,1515.9 209.1,1514.5 210.3,1515.3 211.6,1516.0 212.8,1515.8 214.0,1516.2 215.2,1514.5 216.4,1515.1 217.6,1516.3 218.8,1515.6 220.1,1515.3 221.3,1515.1 222.5,1516.5 223.7,1515.5 224.9,1514.1 226.1,1516.0 227.4,1514.8 228.6,1515.1 229.8,1514.5 231.0,1515.0 232.2,1514.7 233.4,1514.1 234.6,1515.4 235.9,1514.1 237.1,1515.8 238.3,1513.9 239.5,1515.7 240.7,1515.7 241.9,1515.0 243.1,1515.5 244.4,1514.3 245.6,1515.5 246.8,1514.7 248.0,1514.2 249.2,1516.0 250.4,1514.5 251.7,1514.5 252.9,1515.6 254.1,1514.4 255.3,1514.7 256.5,1515.1 257.8,1513.8 259.0,1515.5 260.3,1514.0 261.5,1513.5 262.8,1515.7 264.0,1513.7 265.3,1515.6 266.5,1515.7 267.7,1514.7 269.0,1513.2 270.2,1513.3 271.5,1513.6 272.7,1514.1 274.0,1514.6 275.2,1515.4 276.5,1513.9 277.7,1513.3 278.9,1514.4 280.2,1513.3 281.4,1513.1 282.7,1514.3 283.9,1514.6 285.2,1513.0 286.4,1513.9 287.7,1514.5 288.9,1514.0 290.1,1514.6 291.3,1513.6 292.5,1514.8 293.7,1513.0 294.9,1514.3 296.1,1514.4 297.4,1514.6 298.6,1513.6 299.8,1512.5 301.0,1512.3 302.2,1513.5 303.4,1512.5 304.6,1513.6 305.8,1512.2 307.0,1513.9 308.2,1512.4 309.4,1511.9 310.6,1512.2 311.9,1512.9 313.1,1513.1 314.3,1512.6 315.5,1512.0 316.7,1512.7 317.9,1513.8 319.1,1512.7 320.3,1513.7 321.5,1511.4 322.7,1513.7 323.9,1513.4 325.1,1512.5 326.4,1512.4 327.6,1512.4 328.8,1513.3 330.0,1511.1 331.2,1512.5 332.4,1512.2 333.6,1512.0 334.8,1511.5 336.0,1512.5 337.2,1512.5 338.4,1510.9 339.6,1512.4 340.8,1511.8 342.1,1511.8 343.3,1512.2 344.5,1510.7 345.7,1512.1 346.9,1511.5 348.1,1512.7 349.3,1511.1 350.5,1512.6 351.7,1512.3 352.9,1512.0 354.1,1512.6 355.3,1510.5 356.6,1511.9 357.8,1511.9 359.0,1512.1 360.2,1511.3 361.4,1510.5 362.6,1510.8 363.8,1511.8 365.0,1510.7 366.2,1510.4 367.4,1511.1 368.6,1511.4 369.8,1511.5 371.1,1510.2 372.3,1512.1 373.5,1511.0 374.7,1512.1 375.9,1510.1 377.1,1512.5 378.3,1511.3 379.5,1511.5 380.8,1512.4 382.0,1512.4 383.2,1512.0 384.4,1510.1 385.7,1510.7 386.9,1510.3 388.1,1511.7 389.4,1510.2 390.6,1510.2 391.8,1509.9 393.1,1509.8 394.3,1511.9 395.5,1512.0 396.8,1510.4 398.0,1511.3 399.2,1510.5 400.4,1510.6 401.7,1510.2 402.9,1510.8 404.1,1509.8 405.4,1509.8 406.6,1510.4 407.8,1509.6 409.1,1510.1 410.3,1511.4 411.5,1509.0 412.7,1509.2 414.0,1510.9 415.2,1509.0 416.4,1509.4 417.7,1510.9 418.9,1510.3 420.1,1509.2 421.4,1508.8 422.6,1509.3 423.8,1509.3 425.0,1510.6 426.3,1511.0 427.5,1509.7 428.7,1510.3 429.9,1510.5 431.2,1510.5 432.4,1510.2 433.6,1510.2 434.8,1510.2 436.0,1507.8 437.3,1508.3 438.5,1508.0 439.7,1508.8 440.9,1508.4 442.2,1507.9 443.4,1509.0 444.6,1507.8 445.8,1507.2 447.0,1507.2 448.3,1507.6 449.5,1507.9 450.7,1507.6 451.9,1507.2 453.1,1506.4 454.4,1506.8 455.6,1506.5 456.8,1506.0 458.0,1506.9 459.3,1505.8 460.5,1507.1 461.7,1506.8 462.9,1505.3 464.1,1506.5 465.4,1505.6 466.6,1505.8 467.8,1505.8 469.0,1506.0 470.2,1506.4 471.4,1506.6 472.6,1506.2 473.8,1504.7 475.0,1505.5 476.3,1504.9 477.5,1504.1 478.7,1505.4 479.9,1505.1 481.1,1506.1 482.3,1504.6 483.5,1505.9 484.7,1505.0 485.9,1503.8 487.1,1505.4 488.3,1504.2 489.5,1504.8 490.8,1503.5 492.0,1503.3 493.2,1505.6 494.4,1503.3 495.6,1503.5 496.8,1503.5 498.0,1503.2 499.2,1505.1 500.4,1505.5 501.6,1504.5 502.8,1503.8 504.0,1505.0 505.3,1503.9 506.5,1502.9 507.7,1504.3 508.9,1503.4 510.1,1503.1 511.3,1503.1 512.5,1503.2 513.7,1502.7 514.9,1503.7 516.1,1504.3 517.3,1503.5 518.5,1502.0 519.7,1503.7 521.0,1501.9 522.2,1503.0 523.4,1504.0 524.6,1503.4 525.8,1504.0 527.0,1503.5 528.2,1502.2 529.4,1501.8 530.6,1502.5 531.8,1503.1 533.0,1501.8 534.2,1502.0 535.5,1503.1 536.7,1501.9 537.9,1502.5 539.1,1502.3 540.3,1503.3 541.5,1500.8 542.7,1501.2 543.9,1502.7 545.1,1502.4 546.3,1500.8 547.5,1500.8 548.7,1501.0 550.0,1501.8 551.2,1502.7 552.4,1500.8 553.6,1500.7 554.8,1501.9 556.0,1501.2 557.2,1501.3 558.4,1502.2 559.6,1502.5 560.8,1502.3 562.0,1501.6 563.2,1501.0 564.5,1499.8 565.7,1501.7 566.9,1500.5 568.1,1500.7 569.3,1501.0 570.5,1501.9 571.7,1500.7 572.9,1501.6 574.1,1501.7 575.3,1499.3 576.6,1499.9 577.8,1501.3 579.0,1500.9 580.2,1501.4 581.4,1499.2 582.6,1500.1 583.8,1501.1 585.0,1500.0 586.2,1500.3 587.4,1501.1 588.6,1498.8 589.9,1498.5 591.1,1500.5 592.3,1499.8 593.5,1498.7 594.7,1500.3 595.9,1498.8 597.1,1498.3 598.3,1498.7 599.5,1497.9 600.7,1498.9 602.0,1499.8 603.2,1498.9 604.4,1500.2 605.6,1497.6 606.8,1497.9 608.0,1497.8 609.2,1498.9 610.4,1497.8 611.6,1499.0 612.8,1498.6 614.0,1498.7 615.3,1499.3 616.5,1499.1 617.7,1499.4 618.9,1497.3 620.1,1497.8 621.3,1499.3 622.5,1497.7 623.7,1497.4 624.9,1497.8 626.1,1497.0 627.3,1498.7 628.6,1498.1 629.8,1496.6 631.0,1498.8 632.2,1497.6 633.4,1496.8 634.6,1497.7 635.8,1498.6 637.0,1496.9 638.2,1495.9 639.4,1496.3 640.7,1495.9 641.9,1497.1 643.1,1496.5 644.3,1497.9 645.5,1496.1 646.7,1496.8 647.9,1495.4 649.1,1496.5 650.3,1495.5 651.5,1496.0 652.8,1495.6 654.0,1495.4 655.2,1496.6 656.4,1497.3 657.6,1495.7 658.8,1496.4 660.0,1495.4 661.2,1496.9 662.4,1495.9 663.7,1494.4 664.9,1496.2 666.1,1494.7 667.3,1494.2 668.5,1494.0 669.7,1496.2 670.9,1495.7 672.1,1494.7 673.3,1495.2 674.6,1495.5 675.8,1493.7 677.0,1495.3 678.2,1495.2 679.4,1495.8 680.6,1493.3 681.8,1494.6 683.0,1494.4 684.2,1495.2 685.5,1493.8 686.7,1494.5 687.9,1495.1 689.1,1493.5 690.3,1493.9 691.5,1494.8 692.7,1492.4 693.9,1494.9 695.1,1493.0 696.4,1493.3 697.6,1492.8 698.8,1494.1 700.0,1493.3 701.2,1493.8 702.4,1491.9 703.6,1494.0 704.8,1493.7 706.1,1493.3 707.3,1491.9 708.5,1492.0 709.7,1492.4 710.9,1491.3 712.1,1493.6 713.3,1492.0 714.5,1493.5 715.7,1491.3 717.0,1492.5 718.2,1492.8 719.4,1492.3 720.6,1491.6 721.8,1490.4 723.0,1491.5 724.2,1491.2 725.4,1492.7 726.6,1492.7 727.9,1492.6 729.1,1492.5 730.3,1490.2 731.5,1489.8 732.7,1490.4 733.9,1489.5 735.1,1489.8 736.3,1490.9 737.5,1489.8 738.8,1490.9 740.0,1490.2 741.2,1489.8 742.4,1491.6 743.6,1489.4 744.8,1491.2 746.0,1490.1 747.2,1490.4 748.4,1488.9 749.7,1490.5 750.9,1490.8 752.1,1488.8 753.3,1489.5 754.5,1489.5 755.7,1489.9 756.9,1489.3 758.2,1490.0 759.4,1489.6 760.6,1488.7 761.8,1489.6 763.0,1489.8 764.2,1488.9 765.5,1489.2 766.7,1489.2 767.9,1488.7 769.1,1487.6 770.3,1488.4 771.5,1489.4 772.8,1489.2 774.0,1487.3 775.2,1488.4 776.4,1488.6 777.6,1488.4 778.8,1487.3 780.1,1488.6 781.3,1488.7 782.5,1488.1 783.7,1489.2 784.9,1488.1 786.1,1486.5 787.4,1487.2 788.6,1488.3 789.8,1486.5 791.0,1488.9 792.2,1488.1 793.4,1488.2 794.7,1486.5 795.9,1486.0 797.1,1488.3 798.3,1487.2 799.5,1487.0 800.7,1487.1 802.0,1487.8 803.2,1486.6 804.4,1487.7 805.6,1485.9 806.8,1488.1 808.0,1487.3 809.3,1486.1 810.5,1486.5 811.7,1487.6 812.9,1486.0 814.1,1487.0 815.3,1487.5 816.6,1487.6 817.8,1485.5 819.0,1487.0 820.2,1486.4 821.4,1486.9 822.6,1484.7 823.9,1485.6 825.1,1485.7 826.3,1486.6 827.5,1485.6 828.7,1484.4 829.9,1484.8 831.2,1486.4 832.4,1486.5 833.6,1485.6 834.8,1484.1 836.0,1486.0 837.2,1486.2 838.5,1484.5 839.7,1485.0 840.9,1485.0 842.1,1484.4 843.3,1483.6 844.5,1485.5 845.7,1483.8 847.0,1483.5 848.2,1485.8 849.4,1483.4 850.6,1485.2 851.8,1485.3 853.0,1483.7 854.2,1484.0 855.4,1483.5 856.6,1484.8 857.8,1485.5 859.1,1484.8 860.3,1484.0 861.5,1484.1 862.7,1483.7 863.9,1484.5 865.1,1483.2 866.3,1483.0 867.5,1484.2 868.7,1482.9 870.0,1484.9 871.2,1484.1 872.4,1482.6 873.6,1482.0 874.8,1483.6 876.0,1482.2 877.2,1483.2 878.4,1483.4 879.6,1483.9 880.9,1482.7 882.1,1483.1 883.3,1483.8 884.5,1481.8 885.7,1482.3 886.9,1483.6 888.1,1482.3 889.3,1483.8 890.5,1481.4 891.7,1481.3 893.0,1482.0 894.2,1482.3 895.4,1481.9 896.6,1481.5 897.8,1482.0 899.0,1483.2 900.2,1483.3 901.4,1482.4 902.6,1481.3 903.9,1482.1 905.1,1480.9 906.3,1480.5 907.5,1482.5 908.7,1481.0 909.9,1480.6 911.1,1482.4 912.3,1480.4 913.5,1480.7 914.8,1480.4 916.0,1482.4 917.2,1481.7 918.4,1480.3 919.6,1479.9 920.8,1482.2 922.0,1479.9 923.2,1481.5 924.4,1481.4 925.6,1481.0 926.9,1480.7 928.1,1480.4 929.3,1480.0 930.5,1481.0 931.7,1480.5 932.9,1479.5 934.1,1480.4 935.3,1479.8 936.5,1480.1 937.8,1481.5 939.0,1480.6 940.2,1480.8 941.4,1480.8 942.6,1478.9 943.8,1481.1 945.0,1481.3 946.2,1481.0 947.4,1480.3 948.6,1481.2 949.9,1481.5 951.1,1479.6 952.3,1479.2 953.5,1479.7 954.7,1478.8 955.9,1479.4 957.1,1478.9 958.3,1478.7 959.5,1479.8 960.8,1478.7 962.0,1480.0 963.2,1481.0 964.4,1480.6 965.6,1478.7 966.8,1480.6 968.0,1479.1 969.2,1480.8 970.4,1480.3 971.7,1480.0 972.9,1479.7 974.1,1481.2 975.3,1479.0 976.5,1480.9 977.7,1479.0 978.9,1478.6 980.1,1479.0 981.3,1478.4 982.5,1480.6 983.8,1478.8 985.0,1479.9 986.2,1479.0 987.4,1479.2 988.6,1480.4 989.8,1479.7 991.0,1478.9 992.2,1480.3 993.4,1478.6 994.7,1478.2 995.9,1480.1 997.1,1480.5 998.3,1480.2 999.5,1480.0 1000.7,1480.6 1001.9,1480.6 1003.1,1479.6 1004.3,1478.5 1005.6,1479.6 1006.8,1479.1 1008.0,1479.9 1009.2,1478.9 1010.4,1478.1 1011.6,1478.4 1012.8,1478.2 1014.0,1479.9 1015.2,1479.7 1016.4,1479.3 1017.7,1478.7 1018.9,1479.8 1020.1,1479.0 1021.3,1479.1 1022.5,1479.1 1023.7,1478.3 1024.9,1480.5 1026.1,1478.9 1027.3,1479.0 1028.6,1478.3 1029.8,1479.0 1031.0,1479.0 1032.2,1478.9 1033.4,1479.8 1034.6,1478.6 1035.8,1479.4 1037.0,1479.6 1038.3,1478.1 1039.5,1480.0 1040.7,1477.9 1041.9,1478.4 1043.1,1480.0 1044.3,1478.0 1045.5,1478.5 1046.7,1478.9 1048.0,1480.3 1049.2,1480.4 1050.4,1478.3 1051.6,1479.5 1052.8,1480.0 1054.0,1479.1 1055.2,1478.6 1056.4,1478.1 1057.6,1477.9 1058.9,1477.8 1060.1,1477.8 1061.3,1479.7 1062.5,1479.4 1063.7,1477.9 1064.9,1480.3 1066.1,1480.5 1067.3,1478.9 1068.6,1478.7 1069.8,1480.2 1071.0,1479.6 1072.2,1479.8 1073.4,1478.2 1074.6,1479.7 1075.8,1478.9 1077.0,1477.9 1078.3,1477.8 1079.5,1478.4 1080.7,1478.4 1081.9,1478.5 1083.1,1480.3 1084.3,1478.8 1085.5,1478.3 1086.7,1478.0 1087.9,1477.9 1089.2,1478.8 1090.4,1478.9 1091.6,1477.9 1092.8,1479.1 1094.0,1478.7 1095.2,1477.8 1096.4,1479.0 1097.6,1478.1 1098.9,1478.2 1100.1,1479.8 1101.3,1478.9 1102.5,1478.7 1103.7,1479.3 1104.9,1479.8 1106.1,1479.5 1107.3,1480.4 1108.6,1479.7 1109.8,1478.7 1111.0,1480.4 1112.2,1477.7 1113.4,1479.1 1114.6,1478.2 1115.8,1478.0 1117.0,1478.8 1118.2,1478.7 1119.5,1478.8 1120.7,1479.5 1121.9,1478.7 1123.1,1479.1 1124.3,1479.6 1125.5,1480.3 1126.7,1480.4 1127.9,1478.7 1129.1,1478.8 1130.3,1480.5 1131.6,1480.1 1132.8,1480.2 1134.0,1478.0 1135.2,1478.5 1136.4,1478.9 1137.6,1478.6 1138.8,1479.0 1140.0,1480.3 1141.2,1478.8 1142.5,1479.1 1143.7,1478.6 1144.9,1479.3 1146.1,1479.2 1147.3,1478.2 1148.5,1477.9 1149.7,1479.8 1150.9,1480.0 1152.1,1478.6 1153.4,1478.3 1154.6,1478.0 1155.8,1479.4 1157.0,1479.3 1158.2,1480.3 1159.4,1479.6 1160.6,1479.3 1161.8,1479.4 1163.0,1480.2 1164.2,1480.3 1165.5,1478.2 1166.7,1478.0 1167.9,1478.1 1169.1,1477.7 1170.3,1480.1 1171.5,1480.4 1172.7,1479.1 1173.9,1479.8 1175.1,1479.6 1176.4,1479.5 1177.6,1478.8 1178.8,1480.4 1180.0,1478.6 1181.2,1478.0 1182.4,1477.8 1183.6,1479.9 1184.8,1479.9 1186.0,1480.1 1187.3,1479.9 1188.5,1478.3 1189.7,1478.7 1190.9,1478.5 1192.1,1480.1 1193.3,1477.7 1194.5,1478.6 1195.7,1479.5 1196.9,1479.5 1198.1,1477.7 1199.4,1478.0 1200.6,1478.2 1201.8,1478.3 1203.0,1479.1 1204.2,1479.1 1205.4,1477.8 1206.6,1480.0 1207.8,1479.0 1209.0,1479.5 1210.3,1478.7 1211.5,1480.1 1212.7,1478.0 1213.9,1480.1 1215.1,1478.4 1216.3,1479.1 1217.5,1479.3 1218.7,1479.6 1219.9,1479.2 1221.1,1479.7 1222.4,1477.8 1223.6,1479.2 1224.8,1479.1 1226.0,1479.4 1227.2,1478.0 1228.4,1479.7 1229.6,1477.9 1230.8,1477.8 1232.0,1477.8 1233.3,1480.4 1234.5,1478.1 1235.7,1479.6 1236.9,1477.8 1238.1,1479.4 1239.3,1478.3 1240.5,1479.3 1241.7,1479.7 1242.9,1479.6 1244.2,1479.2 1245.4,1479.7 1246.6,1477.7 1247.8,1477.8 1249.0,1478.3 1250.2,1478.9 1251.4,1479.8 1252.6,1477.7 1253.8,1478.2 1255.0,1479.1 1256.3,1478.6 1257.5,1477.9 1258.7,1478.4 1259.9,1477.7 1261.1,1477.7 1262.3,1480.0 1263.5,1478.5 1264.7,1479.6 1265.9,1478.3 1267.2,1479.7 1268.4,1480.1 1269.6,1477.7 1270.8,1479.3 1272.0,1480.2 1273.2,1479.8 1274.4,1478.0 1275.6,1479.7 1276.8,1479.7 1278.1,1478.1 1279.3,1479.5 1280.5,1479.4 1281.7,1478.2 1282.9,1479.9 1284.1,1480.0 1285.3,1477.8 1286.5,1478.9 1287.7,1479.3 1288.9,1477.6 1290.2,1479.1 1291.4,1480.2 1292.6,1478.5 1293.8,1479.0 1295.0,1479.0 1296.2,1480.2 1297.4,1480.0 1298.6,1480.3 1299.8,1477.8 1301.1,1480.4 1302.3,1478.5 1303.5,1478.6 1304.7,1478.1 1305.9,1479.8 1307.1,1479.2 1308.3,1478.8 1309.5,1478.9 1310.7,1479.0 1311.9,1479.2 1313.2,1477.9 1314.4,1479.5 1315.6,1478.2 1316.8,1477.6 1318.0,1480.2 1319.2,1477.8 1320.4,1479.7 1321.6,1479.6 1322.8,1478.7 1324.1,1479.2 1325.3,1478.1 1326.5,1478.1 1327.7,1479.9 1328.9,1479.6 1330.1,1479.6 1331.3,1478.7 1332.5,1477.5 1333.7,1479.6 1334.9,1480.1 1336.2,1478.3 1337.4,1479.2 1338.6,1477.8 1339.8,1480.1 1341.0,1479.4 1342.2,1477.6 1343.4,1479.4 1344.6,1479.3 1345.8,1478.6 1347.1,1479.0 1348.3,1480.0 1349.5,1479.3 1350.7,1478.7 1351.9,1480.1 1353.1,1479.1 1354.3,1479.5 1355.5,1478.9 1356.7,1479.5 1357.9,1479.5 1359.2,1478.7 1360.4,1478.6 1361.6,1477.9 1362.8,1479.1 1364.0,1479.3 1365.2,1478.4 1366.4,1477.5 1367.6,1479.3 1368.8,1479.1 1370.1,1479.1 1371.3,1477.7 1372.5,1479.7 1373.7,1479.3 1374.9,1479.5 1376.1,1477.7 1377.3,1478.0 1378.5,1478.7 1379.7,1477.2 1380.9,1480.0 1382.2,1477.7 1383.4,1477.6 1384.6,1479.4 1385.8,1477.9 1387.0,1478.6" fill="none" stroke="#000" stroke-width="7" stroke-linejoin="round" stroke-linecap="butt" shape-rendering="crispEdges"/>
<rect x="106" y="28" width="11" height="1702" fill="#000"/>
<rect x="111" y="1724" width="1277" height="11" fill="#000"/>
<rect x="192" y="1711" width="11" height="13" fill="#000"/>
<rect x="446" y="1711" width="11" height="13" fill="#000"/>
<rect x="702" y="1711" width="11" height="13" fill="#000"/>
<rect x="956" y="1711" width="11" height="13" fill="#000"/>
<rect x="1212" y="1711" width="11" height="13" fill="#000"/>
<polyline points="111.0,1416.0 112.6,1416.2 114.2,1415.6 115.5,1416.5 116.8,1416.7 118.1,1417.2 119.4,1416.7 120.7,1417.3 122.0,1414.6 123.2,1416.0 124.5,1417.6 125.8,1416.8 127.1,1417.7 128.4,1415.2 129.7,1416.4 131.0,1416.6 132.3,1415.7 133.6,1416.5 134.9,1416.4 136.1,1414.5 137.4,1415.0 138.7,1415.1 140.0,1417.0 141.3,1416.4 142.6,1414.3 143.8,1416.2 145.1,1414.0 146.4,1415.4 147.7,1414.9 148.9,1413.8 150.1,1413.5 151.4,1416.4 152.6,1414.4 153.8,1414.5 155.1,1417.1 156.3,1416.9 157.5,1415.1 158.7,1417.4 159.9,1416.1 161.2,1416.7 162.4,1416.2 163.7,1415.2 165.0,1417.5 166.3,1416.7 167.6,1417.5 168.9,1417.2 170.2,1415.3 171.4,1415.4 172.7,1414.7 174.0,1414.6 175.3,1414.3 176.6,1415.0 177.9,1416.0 179.2,1415.6 180.4,1413.8 181.6,1415.8 182.9,1414.5 184.1,1414.3 185.3,1415.8 186.6,1414.5 187.8,1413.8 189.0,1414.1 190.2,1414.7 191.4,1412.4 192.7,1415.2 193.9,1413.5 195.1,1410.9 196.4,1412.2 197.6,1411.4 198.9,1407.7 200.1,1408.2 201.5,1408.1 202.9,1405.7 204.3,1405.1 205.7,1406.4 207.1,1405.6 208.5,1408.2 209.9,1408.8 211.3,1411.4 212.7,1414.5 213.9,1416.0 215.1,1413.4 216.4,1415.2 217.6,1415.8 218.8,1415.8 220.1,1413.8 221.3,1413.8 222.5,1414.3 223.7,1415.1 224.9,1412.9 226.2,1414.9 227.4,1414.1 228.7,1415.1 229.9,1415.3 231.2,1412.7 232.4,1415.7 233.7,1412.9 235.0,1413.7 236.2,1414.6 237.5,1415.7 238.7,1413.8 240.0,1415.8 241.3,1414.5 242.5,1413.8 243.8,1413.8 245.0,1413.4 246.3,1414.5 247.5,1413.1 248.8,1413.3 250.0,1415.1 251.2,1416.0 252.4,1413.3 253.7,1412.9 254.9,1415.9 256.1,1414.4 257.4,1414.0 258.6,1413.4 259.8,1414.5 261.1,1415.3 262.3,1414.0 263.5,1413.9 264.7,1412.7 266.0,1415.5 267.2,1414.1 268.4,1412.5 269.7,1413.9 270.9,1414.9 272.1,1412.5 273.4,1414.4 274.6,1415.0 275.8,1413.8 277.1,1414.2 278.3,1411.9 279.6,1412.9 280.8,1411.8 282.0,1414.0 283.3,1412.1 284.5,1412.5 285.7,1414.2 287.0,1413.7 288.2,1412.4 289.5,1413.8 290.8,1412.0 292.1,1412.0 293.4,1412.7 294.8,1411.7 296.1,1411.0 297.4,1411.2 298.7,1411.4 300.0,1410.1 301.3,1410.8 302.6,1412.7 303.8,1412.5 305.1,1411.2 306.4,1410.7 307.7,1410.1 309.0,1409.1 310.3,1409.6 311.5,1411.2 312.8,1411.3 314.1,1409.6 315.4,1409.9 316.7,1410.7 317.9,1410.6 319.2,1410.2 320.4,1409.9 321.7,1410.1 323.0,1408.7 324.2,1409.7 325.5,1408.1 326.7,1408.7 328.0,1408.6 329.4,1408.9 330.8,1408.1 332.2,1406.2 333.6,1407.7 335.0,1406.2 336.4,1405.1 337.7,1404.9 338.9,1402.6 340.2,1404.0 341.4,1402.6 342.7,1403.0 344.0,1404.4 345.2,1404.6 346.5,1406.6 347.7,1406.9 349.0,1407.2 350.4,1409.2 351.8,1408.8 353.2,1410.3 354.5,1410.7 355.7,1410.9 357.0,1411.1 358.2,1409.4 359.5,1410.9 360.8,1410.9 362.0,1410.2 363.3,1411.1 364.5,1410.9 365.8,1409.3 367.1,1409.2 368.4,1409.0 369.7,1407.6 371.0,1409.7 372.3,1409.8 373.6,1408.1 374.9,1408.6 376.2,1407.8 377.4,1408.6 378.6,1408.7 379.8,1406.9 381.0,1409.0 382.2,1408.4 383.4,1408.7 384.6,1407.9 385.8,1408.7 387.0,1409.2 388.2,1408.8 389.4,1409.2 390.6,1406.9 391.8,1407.4 393.0,1408.6 394.4,1408.5 395.8,1409.4 397.2,1408.1 398.6,1409.8 400.0,1409.3 401.2,1409.7 402.5,1407.6 403.7,1409.0 404.9,1408.1 406.2,1407.5 407.4,1407.7 408.6,1408.2 409.9,1407.7 411.1,1407.7 412.4,1407.1 413.6,1408.5 414.8,1408.1 416.1,1408.8 417.3,1408.7 418.5,1407.4 419.8,1409.6 421.0,1408.2 422.2,1406.4 423.5,1407.6 424.7,1407.1 425.9,1407.4 427.1,1406.3 428.4,1408.6 429.6,1406.9 430.8,1405.6 432.1,1407.5 433.3,1405.6 434.5,1407.0 435.8,1406.2 437.0,1406.9 438.2,1408.0 439.4,1407.4 440.7,1405.9 441.9,1406.1 443.1,1407.0 444.4,1406.3 445.6,1405.3 446.8,1404.4 448.1,1405.8 449.3,1405.6 450.5,1406.8 451.8,1406.7 453.0,1405.4 454.3,1404.4 455.5,1406.1 456.7,1402.9 458.0,1403.2 459.2,1404.6 460.4,1404.6 461.7,1402.9 462.9,1404.0 464.1,1404.2 465.3,1404.8 466.6,1402.8 467.8,1402.7 469.0,1401.8 470.2,1401.7 471.5,1403.8 472.7,1401.5 473.9,1403.2 475.2,1402.8 476.4,1401.5 477.6,1400.9 478.9,1400.2 480.2,1402.7 481.5,1401.1 482.7,1400.9 484.0,1400.7 485.3,1403.0 486.6,1401.4 487.9,1400.8 489.2,1401.5 490.4,1400.4 491.7,1402.2 493.0,1401.6 494.3,1401.9 495.5,1401.1 496.8,1402.7 498.0,1402.8 499.2,1399.9 500.4,1401.6 501.6,1400.6 502.9,1402.8 504.1,1402.2 505.3,1400.3 506.6,1400.3 507.8,1399.8 509.0,1400.9 510.3,1402.1 511.6,1399.1 512.9,1399.7 514.2,1398.7 515.6,1398.8 516.9,1398.1 518.2,1398.1 519.5,1396.7 520.8,1395.6 522.1,1398.1 523.4,1396.8 524.8,1397.9 526.1,1397.4 527.4,1397.6 528.7,1398.6 530.0,1398.8 531.3,1399.0 532.5,1398.9 533.8,1400.6 535.0,1400.4 536.3,1398.8 537.6,1399.8 538.8,1400.8 540.1,1402.7 541.3,1402.9 542.6,1401.9 543.8,1402.1 545.1,1400.2 546.3,1402.9 547.5,1401.7 548.7,1402.2 550.0,1402.6 551.2,1402.4 552.4,1401.8 553.7,1403.3 554.9,1401.5 556.1,1401.5 557.4,1403.1 558.6,1400.8 559.8,1401.2 561.0,1403.0 562.3,1400.4 563.5,1401.9 564.8,1403.0 566.1,1402.5 567.4,1401.6 568.7,1401.0 570.0,1402.7 571.3,1403.1 572.5,1400.4 573.8,1401.6 575.1,1401.8 576.4,1401.6 577.7,1401.0 579.0,1400.3 580.3,1401.5 581.6,1401.7 582.8,1402.3 584.1,1399.6 585.3,1400.0 586.6,1401.9 587.9,1401.7 589.1,1401.1 590.4,1398.7 591.6,1401.0 592.9,1401.8 594.2,1401.7 595.4,1400.5 596.7,1398.1 597.9,1400.7 599.2,1399.4 600.5,1398.3 601.8,1399.6 603.1,1400.6 604.3,1399.6 605.6,1397.5 606.9,1397.9 608.2,1399.9 609.5,1397.1 610.8,1398.6 612.0,1397.8 613.3,1396.8 614.6,1398.3 615.9,1397.7 617.1,1396.2 618.4,1396.5 619.6,1397.6 620.8,1396.6 622.0,1396.6 623.2,1398.5 624.5,1399.2 625.7,1399.8 626.9,1397.2 628.1,1398.4 629.4,1398.1 630.6,1398.8 631.9,1398.4 633.1,1397.3 634.4,1398.1 635.6,1395.4 636.9,1393.5 638.2,1395.1 639.4,1392.4 640.7,1393.3 641.9,1392.2 643.2,1391.4 644.6,1393.5 646.0,1393.0 647.4,1393.9 648.8,1393.4 650.2,1395.1 651.6,1395.6 652.9,1394.8 654.2,1396.7 655.5,1395.9 656.7,1394.7 658.0,1395.1 659.3,1395.7 660.6,1397.0 661.9,1395.1 663.2,1397.1 664.4,1397.0 665.7,1395.1 667.0,1397.2 668.3,1396.7 669.6,1394.8 670.8,1394.5 672.1,1395.8 673.3,1394.1 674.6,1395.9 675.9,1394.1 677.1,1393.1 678.4,1394.4 679.6,1391.3 680.9,1392.5 682.3,1390.2 683.7,1384.7 685.1,1383.1 686.4,1381.1 687.8,1383.1 689.1,1381.3 690.4,1379.9 691.8,1380.1 693.2,1380.9 694.5,1385.1 695.9,1385.2 697.3,1386.9 698.7,1386.9 700.0,1385.7 701.2,1387.6 702.5,1386.7 703.7,1386.4 705.0,1386.9 706.2,1388.0 707.5,1387.7 708.8,1388.5 710.1,1389.9 711.4,1390.4 712.7,1393.0 713.9,1394.0 715.1,1393.2 716.4,1393.5 717.6,1392.0 718.8,1393.3 720.0,1392.0 721.2,1392.1 722.5,1391.8 723.7,1392.2 724.9,1391.2 726.1,1391.0 727.4,1390.1 728.6,1390.1 729.8,1390.9 731.0,1390.5 732.3,1393.7 733.5,1392.4 734.7,1393.6 736.0,1391.0 737.2,1393.0 738.5,1392.2 739.8,1393.1 741.1,1391.5 742.4,1390.4 743.6,1389.8 744.8,1389.6 746.1,1387.9 747.3,1387.8 748.5,1387.4 749.7,1387.9 750.9,1387.5 752.2,1389.0 753.4,1386.0 754.6,1386.9 755.9,1386.4 757.1,1386.8 758.4,1386.8 759.6,1387.6 760.9,1387.8 762.1,1389.1 763.4,1389.5 764.7,1387.2 766.0,1389.7 767.3,1387.0 768.6,1388.4 770.0,1386.9 771.3,1386.1 772.6,1384.8 773.9,1384.2 775.2,1385.6 776.5,1382.4 777.8,1384.2 779.1,1382.6 780.4,1383.8 781.7,1383.7 783.0,1381.5 784.3,1382.5 785.7,1379.5 787.1,1377.0 788.5,1375.8 789.9,1373.3 791.3,1372.9 792.5,1371.5 793.7,1372.5 795.0,1369.3 796.2,1368.1 797.4,1367.7 798.6,1368.6 799.9,1369.0 801.1,1371.7 802.4,1372.6 803.6,1372.9 804.9,1373.9 806.2,1376.3 807.5,1380.0 808.8,1381.6 810.0,1384.1 811.2,1383.9 812.5,1384.0 813.7,1386.8 814.9,1386.0 816.1,1384.0 817.3,1384.0 818.6,1386.5 819.8,1385.0 821.0,1385.1 822.4,1382.0 823.8,1382.5 825.2,1382.7 826.6,1379.6 828.0,1378.1 829.3,1375.0 830.6,1371.4 832.0,1368.7 833.3,1367.7 835.0,1357.8 836.8,1344.9 838.5,1337.0 840.2,1329.2 842.0,1329.9 843.7,1327.5 845.5,1330.2 847.2,1336.2 849.0,1362.4 850.8,1365.4 852.5,1370.3 853.9,1369.0 855.3,1370.6 856.7,1369.7 858.1,1370.8 859.5,1372.0 860.9,1372.7 862.3,1373.4 863.6,1373.5 865.0,1374.5 866.4,1377.3 867.7,1379.7 868.9,1377.3 870.2,1379.2 871.4,1379.4 872.7,1380.5 873.9,1379.4 875.2,1381.6 876.4,1380.4 877.7,1379.1 878.9,1380.3 880.2,1381.2 881.4,1379.5 882.7,1379.9 883.9,1378.1 885.2,1376.2 886.4,1374.6 887.7,1375.6 888.9,1374.6 890.2,1374.0 891.4,1372.4 892.7,1372.0 894.0,1374.0 895.3,1375.9 896.6,1378.1 897.9,1378.1 899.3,1377.2 900.7,1377.6 902.1,1378.8 903.5,1376.4 904.9,1377.3 906.2,1375.9 907.5,1376.6 908.8,1375.8 910.1,1378.3 911.5,1378.5 912.8,1376.6 914.1,1375.9 915.4,1377.3 916.8,1376.2 918.2,1377.4 919.6,1377.3 921.0,1379.1 922.4,1379.9 923.6,1379.8 924.9,1378.2 926.1,1377.1 927.4,1379.2 928.6,1376.3 929.9,1376.5 931.1,1377.3 932.6,1375.8 934.0,1375.5 935.5,1373.8 937.0,1374.7 938.4,1374.9 939.8,1375.1 941.2,1377.3 942.6,1377.1 944.0,1377.4 945.2,1377.4 946.5,1375.0 947.7,1373.9 949.0,1371.7 950.2,1369.7 951.5,1369.6 952.7,1366.9 954.0,1363.1 955.4,1359.9 956.7,1354.6 958.0,1349.4 959.4,1344.9 960.9,1338.0 962.3,1333.7 963.9,1332.0 965.4,1327.4 967.0,1324.9 968.2,1325.5 969.5,1327.2 970.7,1329.6 971.9,1332.8 973.4,1336.3 974.8,1342.2 976.3,1345.9 977.6,1353.8 978.9,1363.4 980.2,1363.0 981.5,1367.0 982.9,1367.5 984.2,1368.6 985.4,1367.3 986.7,1367.9 987.9,1368.7 989.2,1370.0 990.4,1372.5 991.7,1373.3 992.9,1372.1 994.3,1371.7 995.7,1369.3 997.1,1369.2 998.5,1368.0 999.9,1367.7 1001.1,1367.2 1002.4,1366.1 1003.6,1368.4 1004.9,1369.5 1006.1,1369.2 1007.4,1366.9 1008.6,1368.6 1009.9,1367.0 1011.2,1363.8 1012.6,1364.2 1013.9,1361.6 1015.6,1354.4 1017.4,1347.7 1019.1,1337.2 1020.6,1338.3 1022.0,1337.2 1023.5,1335.4 1024.9,1336.2 1026.4,1339.4 1027.8,1342.4 1029.6,1359.9 1031.3,1367.6 1033.1,1372.1 1034.3,1371.3 1035.6,1370.6 1036.8,1370.0 1038.1,1370.6 1039.3,1370.7 1040.6,1368.5 1041.8,1367.7 1043.2,1370.4 1044.6,1369.8 1046.0,1368.8 1047.4,1372.5 1048.8,1372.1 1050.1,1373.3 1051.4,1373.4 1052.7,1378.6 1054.0,1378.2 1055.3,1376.4 1056.6,1378.5 1057.9,1378.1 1059.2,1379.7 1060.6,1377.8 1061.9,1377.1 1063.2,1377.3 1064.5,1378.2 1065.8,1376.4 1067.0,1377.2 1068.3,1375.8 1069.5,1376.7 1070.8,1374.1 1072.0,1373.9 1073.3,1373.9 1074.7,1369.4 1076.2,1368.8 1077.6,1363.4 1079.3,1349.9 1081.1,1333.7 1082.4,1324.6 1083.7,1312.7 1085.3,1309.3 1086.9,1304.9 1088.4,1308.4 1089.9,1312.7 1091.2,1321.8 1092.5,1333.7 1094.2,1341.1 1096.0,1345.9 1097.3,1355.3 1098.6,1364.8 1099.8,1364.9 1101.0,1367.4 1102.3,1369.1 1103.5,1373.6 1104.7,1374.7 1105.9,1376.9 1107.2,1374.7 1108.4,1377.8 1109.7,1376.5 1110.9,1378.6 1112.2,1379.9 1113.4,1379.1 1114.7,1379.7 1115.9,1380.6 1117.2,1379.0 1118.4,1377.6 1119.7,1379.8 1120.9,1380.2 1122.2,1380.0 1123.4,1378.6 1124.7,1379.3 1125.9,1378.9 1127.2,1377.6 1128.4,1378.6 1129.7,1378.8 1130.9,1379.1 1132.1,1379.4 1133.4,1380.7 1134.6,1379.8 1135.9,1382.5 1137.1,1382.2 1138.4,1383.0 1139.6,1381.7 1140.9,1382.8 1142.2,1382.9 1143.5,1382.7 1144.8,1384.0 1146.1,1382.5 1147.4,1383.7 1148.7,1384.4 1150.0,1383.9 1151.2,1384.2 1152.5,1383.4 1153.8,1382.7 1155.0,1383.0 1156.2,1384.2 1157.5,1385.3 1158.8,1386.3 1160.0,1386.3 1161.2,1384.8 1162.5,1387.5 1163.8,1385.0 1165.0,1387.0 1166.2,1384.6 1167.5,1386.5 1168.7,1387.5 1170.0,1387.1 1171.2,1388.2 1172.5,1387.9 1173.7,1386.9 1175.0,1387.5 1176.2,1387.0 1177.4,1386.4 1178.7,1384.7 1179.9,1385.9 1181.2,1387.4 1182.4,1384.7 1183.7,1387.6 1184.9,1385.6 1186.2,1386.0 1187.4,1385.5 1188.7,1384.1 1189.9,1385.9 1191.2,1385.2 1192.4,1387.3 1193.7,1388.6 1194.9,1388.8 1196.2,1387.7 1197.4,1387.0 1198.7,1386.0 1199.9,1388.6 1201.2,1388.2 1202.4,1388.2 1203.7,1389.0 1204.9,1387.6 1206.2,1389.6 1207.4,1386.8 1208.7,1387.1 1209.9,1386.9 1211.2,1388.3 1212.4,1389.4 1213.7,1386.3 1214.9,1388.2 1216.2,1388.7 1217.4,1386.4 1218.7,1385.6 1219.9,1387.4 1221.2,1387.9 1222.4,1389.2 1223.7,1389.5 1224.9,1389.1 1226.2,1388.0 1227.4,1388.2 1228.7,1388.8 1229.9,1390.6 1231.2,1388.2 1232.4,1388.3 1233.7,1389.9 1234.9,1391.6 1236.2,1388.5 1237.4,1390.0 1238.6,1388.2 1239.9,1388.6 1241.1,1390.6 1242.4,1390.9 1243.6,1389.3 1244.9,1389.4 1246.1,1391.2 1247.3,1391.6 1248.6,1391.9 1249.8,1392.2 1251.1,1389.5 1252.3,1391.4 1253.6,1393.0 1254.8,1391.7 1256.0,1393.6 1257.3,1390.9 1258.5,1393.2 1259.8,1392.3 1261.0,1393.5 1262.3,1390.6 1263.5,1392.5 1264.8,1393.1 1266.0,1391.6 1267.3,1390.0 1268.5,1390.4 1269.8,1390.2 1271.0,1390.0 1272.3,1391.7 1273.5,1390.2 1274.8,1392.1 1276.0,1389.8 1277.3,1392.5 1278.5,1392.4 1279.8,1392.7 1281.0,1392.5 1282.3,1392.1 1283.5,1392.9 1284.8,1393.0 1286.0,1391.5 1287.3,1392.9 1288.5,1389.2 1289.8,1390.8 1291.0,1389.3 1292.3,1389.3 1293.5,1390.1 1294.8,1391.0 1296.0,1391.6 1297.3,1392.7 1298.5,1393.2 1299.7,1390.6 1301.0,1392.1 1302.2,1392.9 1303.5,1392.4 1304.7,1391.5 1306.0,1393.7 1307.2,1393.5 1308.5,1393.1 1309.7,1394.7 1311.0,1394.0 1312.2,1396.2 1313.5,1396.3 1314.7,1392.8 1316.0,1395.9 1317.2,1395.9 1318.5,1394.3 1319.7,1393.7 1321.0,1395.5 1322.2,1395.1 1323.5,1396.9 1324.7,1396.1 1326.0,1398.0 1327.2,1395.7 1328.5,1395.4 1329.7,1396.4 1331.0,1397.3 1332.2,1397.7 1333.5,1396.9 1334.7,1395.7 1336.0,1396.0 1337.2,1398.3 1338.5,1396.9 1339.7,1394.9 1341.0,1396.6 1342.2,1397.0 1343.4,1395.7 1344.7,1397.3 1345.9,1394.6 1347.2,1395.2 1348.4,1394.3 1349.7,1395.7 1350.9,1397.8 1352.1,1395.6 1353.4,1394.8 1354.6,1397.0 1355.9,1393.1 1357.1,1394.1 1358.4,1395.8 1359.6,1394.3 1360.9,1392.5 1362.1,1396.3 1363.4,1394.9 1364.7,1393.8 1366.0,1395.2 1367.2,1396.5 1368.5,1396.6 1369.8,1397.6 1371.1,1395.9 1372.3,1397.1 1373.6,1398.7 1374.8,1400.7 1376.0,1398.3 1377.3,1398.3 1378.5,1396.5 1379.7,1397.3 1380.9,1400.2 1382.1,1398.9 1383.4,1398.0 1384.6,1395.9 1385.8,1397.8" fill="none" stroke="#0000ff" stroke-width="7" stroke-linejoin="round" stroke-linecap="butt" shape-rendering="crispEdges"/>
<polyline points="111.0,1694.0 112.1,1693.4 113.4,1693.6 114.6,1692.7 115.9,1690.2 117.1,1688.1 118.4,1688.1 119.8,1686.6 121.2,1690.2 122.6,1690.1 124.0,1692.0 125.4,1691.0 126.8,1692.3 128.1,1693.1 129.3,1690.5 130.6,1692.4 131.8,1691.6 133.1,1689.8 134.4,1689.9 135.6,1690.2 136.9,1687.6 138.1,1688.8 139.4,1688.1 140.7,1689.1 141.9,1686.4 143.2,1688.5 144.4,1687.7 145.7,1688.1 146.9,1685.5 148.2,1684.1 149.4,1687.0 150.7,1686.7 151.9,1685.0 153.1,1684.8 154.3,1683.4 155.6,1683.9 156.8,1685.9 158.0,1684.5 159.2,1687.5 160.5,1686.0 161.7,1684.3 162.9,1686.4 164.2,1685.2 165.4,1687.8 166.6,1686.0 167.9,1687.3 169.2,1685.0 170.5,1685.1 171.8,1684.8 173.2,1684.7 174.5,1685.0 175.8,1680.2 177.1,1681.8 178.4,1680.8 179.6,1681.4 180.9,1679.7 182.1,1680.6 183.4,1677.9 184.7,1681.0 185.9,1679.0 187.2,1676.8 188.4,1678.8 189.7,1677.7 191.0,1676.2 192.3,1675.0 193.6,1675.6 194.9,1673.4 196.2,1673.1 197.5,1675.4 198.8,1673.9 200.1,1672.4 201.4,1667.6 202.8,1668.4 204.1,1662.4 205.4,1661.9 206.7,1662.7 208.0,1666.9 209.3,1667.2 210.6,1668.2 212.7,1677.7 214.0,1676.7 215.3,1676.9 216.6,1676.8 217.9,1675.5 219.3,1679.3 220.6,1674.9 221.9,1676.4 223.2,1676.6 224.5,1677.4 225.7,1675.5 227.0,1677.8 228.2,1674.2 229.5,1677.2 230.8,1676.5 232.0,1675.2 233.3,1675.9 234.5,1673.6 235.8,1673.5 237.1,1675.0 238.4,1674.8 239.7,1673.6 241.0,1673.4 242.3,1674.4 243.6,1673.1 244.8,1671.6 246.1,1674.6 247.4,1672.4 248.7,1673.4 250.0,1674.8 251.3,1672.0 252.6,1673.5 253.8,1671.0 255.1,1671.2 256.4,1672.9 257.6,1671.6 258.9,1670.8 260.1,1671.4 261.4,1673.2 262.6,1669.8 263.9,1670.2 265.1,1670.3 266.3,1671.7 267.6,1670.1 268.8,1668.2 270.0,1668.8 271.2,1668.5 272.5,1666.6 273.7,1667.3 274.9,1666.6 276.1,1668.5 277.4,1666.0 278.6,1667.2 279.8,1666.1 281.1,1668.4 282.3,1668.2 283.6,1665.9 284.8,1667.0 286.1,1665.8 287.4,1666.3 288.6,1666.8 289.9,1668.3 291.1,1669.1 292.4,1667.2 293.7,1665.7 294.9,1663.9 296.2,1665.4 297.4,1663.1 298.7,1662.4 300.0,1665.3 301.2,1661.7 302.5,1664.0 303.7,1661.8 305.0,1661.9 306.2,1663.8 307.4,1663.3 308.6,1659.6 309.9,1660.2 311.1,1663.5 312.3,1661.9 313.5,1661.0 314.7,1662.5 316.0,1662.6 317.2,1661.0 318.4,1660.8 319.6,1660.9 321.0,1658.9 322.4,1659.9 323.8,1658.7 325.2,1660.7 326.6,1660.5 328.0,1659.8 329.2,1657.0 330.5,1658.0 331.7,1654.3 332.9,1653.1 334.2,1654.4 335.4,1652.5 336.8,1650.2 338.2,1650.1 339.6,1646.2 341.0,1647.2 342.4,1647.9 343.8,1647.3 345.0,1647.2 346.3,1652.2 347.5,1650.4 348.8,1654.5 350.0,1655.6 351.3,1657.4 352.6,1657.3 353.9,1657.1 355.2,1654.9 356.4,1655.9 357.7,1656.3 359.0,1653.1 360.3,1656.8 361.6,1654.6 362.8,1656.5 364.0,1654.4 365.2,1656.0 366.5,1654.6 367.7,1653.8 368.9,1655.9 370.1,1652.9 371.3,1656.4 372.6,1657.3 373.8,1654.1 375.0,1657.2 376.2,1655.2 377.4,1653.0 378.6,1656.2 379.9,1653.2 381.1,1656.1 382.3,1653.3 383.5,1655.3 384.8,1650.8 386.0,1650.7 387.2,1653.8 388.4,1652.7 389.7,1651.9 390.9,1651.4 392.2,1649.6 393.4,1650.7 394.7,1652.1 395.9,1651.0 397.2,1655.8 398.5,1655.2 399.7,1656.4 401.0,1655.7 402.2,1654.5 403.5,1655.6 404.8,1653.1 406.1,1655.7 407.4,1652.3 408.7,1653.9 410.0,1653.0 411.3,1652.7 412.6,1652.2 413.8,1650.0 415.1,1649.9 416.3,1651.8 417.5,1649.3 418.7,1651.4 420.0,1649.5 421.2,1650.0 422.4,1649.2 423.6,1650.9 424.9,1649.9 426.1,1649.0 427.3,1650.1 428.5,1648.6 429.7,1650.1 430.9,1651.5 432.2,1649.1 433.4,1647.7 434.6,1648.2 435.8,1647.7 437.0,1649.1 438.2,1649.9 439.5,1648.8 440.7,1646.8 441.9,1648.1 443.2,1647.2 444.4,1647.3 445.7,1647.5 446.9,1647.2 448.2,1649.9 449.5,1647.7 450.7,1648.1 452.0,1648.2 453.2,1647.8 454.5,1647.0 455.9,1647.7 457.3,1645.0 458.7,1645.7 460.1,1646.4 461.5,1641.9 462.9,1642.8 464.2,1643.1 465.5,1641.7 466.8,1639.9 468.1,1639.6 469.5,1642.7 470.8,1639.4 472.1,1642.0 473.4,1640.7 474.7,1639.1 476.0,1640.6 477.3,1639.3 478.6,1642.0 480.0,1643.4 481.3,1641.0 482.6,1642.8 483.9,1642.8 485.2,1644.5 486.5,1641.3 487.8,1641.9 489.1,1642.8 490.4,1643.2 491.7,1639.7 493.0,1641.7 494.3,1640.7 495.6,1638.4 496.9,1637.8 498.2,1641.4 499.6,1636.5 500.9,1640.1 502.2,1638.7 503.5,1637.9 504.8,1636.5 506.1,1637.9 507.4,1637.7 508.7,1636.3 510.0,1637.3 511.4,1636.4 512.7,1639.8 514.0,1639.7 515.3,1638.6 516.6,1639.3 517.9,1635.9 519.2,1637.1 520.5,1634.8 521.9,1636.7 523.2,1635.9 524.5,1636.4 525.8,1633.4 527.1,1634.5 528.4,1634.5 529.7,1635.1 531.0,1632.0 532.4,1634.5 533.7,1631.9 535.0,1633.6 536.3,1634.4 537.6,1632.0 538.9,1635.5 540.2,1630.6 541.5,1634.3 542.9,1633.9 544.2,1630.9 545.5,1632.3 546.8,1630.2 548.0,1627.7 549.3,1627.9 550.5,1626.9 551.8,1626.9 553.0,1626.3 554.3,1629.9 555.5,1626.1 556.8,1628.2 558.0,1626.3 559.3,1627.1 560.5,1625.8 561.8,1627.6 563.0,1626.9 564.2,1631.1 565.4,1628.7 566.6,1630.2 567.9,1630.4 569.1,1631.2 570.3,1630.9 571.5,1630.3 572.8,1630.1 574.0,1632.3 575.3,1633.0 576.6,1628.5 577.9,1628.5 579.2,1629.1 580.6,1626.8 581.9,1627.4 583.2,1625.6 584.5,1622.9 585.9,1623.7 587.3,1622.5 588.7,1625.4 590.1,1625.6 591.5,1628.1 592.9,1627.1 594.2,1626.7 595.5,1627.0 596.8,1627.0 598.1,1624.9 599.5,1626.1 600.8,1625.9 602.1,1621.8 603.4,1622.9 604.6,1624.3 605.9,1623.4 607.1,1622.7 608.4,1619.6 609.6,1619.7 610.9,1619.0 612.2,1619.0 613.5,1620.7 614.9,1623.5 616.2,1621.7 617.5,1620.5 618.8,1622.4 620.1,1623.9 621.4,1621.2 622.7,1623.2 624.0,1623.3 625.4,1623.4 626.7,1618.7 628.0,1619.4 629.3,1617.5 630.6,1618.7 631.9,1619.9 633.1,1618.7 634.4,1616.3 635.6,1617.5 636.9,1614.6 638.2,1615.0 639.4,1612.8 640.7,1611.3 641.9,1613.5 643.2,1610.3 644.6,1612.8 646.0,1612.5 647.4,1614.7 648.8,1614.6 650.2,1616.2 651.6,1615.6 653.0,1614.2 654.4,1615.2 655.8,1615.7 657.2,1618.8 658.6,1620.1 660.0,1619.7 661.2,1617.4 662.5,1618.5 663.8,1616.0 665.0,1618.1 666.2,1618.0 667.5,1614.0 668.8,1617.7 670.0,1615.5 671.2,1612.3 672.5,1613.5 673.9,1610.8 675.3,1608.0 676.7,1608.8 678.1,1607.8 679.5,1602.2 680.9,1601.9 682.3,1599.3 683.7,1600.4 685.1,1600.5 686.5,1598.9 687.9,1596.4 689.3,1595.6 690.8,1592.9 692.2,1594.7 693.7,1593.1 695.2,1592.6 696.4,1594.7 697.7,1594.2 698.9,1595.6 700.1,1597.4 701.4,1596.3 702.6,1598.3 703.8,1595.8 705.0,1595.0 706.3,1600.0 707.5,1598.7 708.7,1596.7 709.9,1601.8 711.1,1599.5 712.3,1597.8 713.5,1599.2 714.7,1601.7 715.9,1600.4 717.1,1601.3 718.4,1600.6 719.7,1596.7 721.0,1599.1 722.3,1595.5 723.6,1596.4 724.9,1593.5 726.2,1592.5 727.5,1595.9 728.8,1595.6 730.1,1596.1 731.5,1594.9 732.8,1598.2 734.1,1600.5 735.4,1599.6 736.8,1595.9 738.2,1595.8 739.6,1591.9 741.0,1595.0 742.4,1590.8 743.7,1593.6 745.0,1592.6 746.4,1592.1 747.7,1592.6 749.0,1587.4 750.3,1584.6 751.6,1584.5 752.9,1580.4 754.1,1581.0 755.4,1581.1 756.6,1579.5 757.9,1576.5 759.1,1574.8 760.4,1575.3 761.6,1574.2 763.0,1573.3 764.4,1574.1 765.8,1575.6 767.2,1573.3 768.6,1573.4 769.9,1570.1 771.2,1562.0 772.4,1563.6 773.7,1560.8 774.9,1564.8 776.2,1564.9 777.4,1564.6 779.1,1571.6 780.3,1570.5 781.5,1565.6 782.8,1568.3 784.0,1564.6 785.2,1562.9 786.5,1564.7 787.8,1564.5 789.2,1565.4 790.5,1566.9 791.8,1569.5 793.1,1572.5 794.5,1570.3 795.9,1568.3 797.3,1566.6 798.7,1568.8 800.1,1566.4 801.3,1565.8 802.5,1565.2 803.8,1560.2 805.0,1561.2 806.2,1558.5 807.4,1560.9 808.6,1560.3 809.9,1566.1 811.1,1565.5 812.3,1568.1 813.5,1565.7 814.8,1564.8 816.0,1567.6 817.3,1563.2 818.5,1563.2 819.8,1563.1 821.0,1562.0 822.3,1559.3 823.6,1558.9 825.0,1554.1 826.3,1554.2 827.7,1553.1 829.1,1553.2 830.5,1552.7 831.9,1551.9 833.3,1550.7 834.6,1548.2 835.9,1548.7 837.2,1549.1 838.5,1545.4 839.8,1545.5 841.1,1546.6 842.4,1547.8 843.7,1546.3 845.0,1547.2 846.4,1549.5 847.7,1555.2 849.0,1555.0 850.8,1557.9 852.5,1562.9 853.8,1561.4 855.1,1560.0 856.4,1562.1 857.7,1558.5 859.0,1559.6 860.4,1562.2 861.7,1559.4 863.0,1562.0 864.7,1545.4 866.5,1537.3 868.2,1531.4 869.5,1533.9 870.8,1534.9 872.6,1552.4 874.3,1569.9 875.5,1571.2 876.7,1575.2 878.0,1576.7 879.2,1576.8 880.4,1581.2 881.7,1578.5 882.9,1579.4 884.2,1579.1 885.4,1576.6 886.7,1576.3 887.9,1574.2 889.2,1576.0 890.4,1574.1 891.6,1573.6 892.9,1573.3 894.1,1573.7 895.3,1572.5 896.7,1575.7 898.1,1576.4 899.5,1577.9 900.9,1577.0 902.3,1579.5 903.6,1581.5 904.9,1584.6 906.2,1587.4 907.5,1587.4 908.8,1585.2 910.1,1583.2 911.4,1582.5 912.7,1583.9 913.9,1583.4 915.2,1584.7 916.4,1580.5 917.7,1583.2 918.9,1581.2 920.1,1580.5 921.3,1580.2 922.6,1579.0 923.8,1573.6 925.0,1574.2 926.2,1574.3 927.4,1569.6 928.7,1568.1 929.9,1568.2 931.1,1567.3 932.6,1568.9 934.0,1568.4 935.5,1571.1 937.0,1573.9 938.2,1572.5 939.5,1572.5 940.7,1572.6 942.0,1572.4 943.2,1573.7 944.5,1574.5 945.7,1575.6 947.0,1573.7 948.4,1573.5 949.7,1571.6 951.0,1569.5 952.2,1567.5 953.4,1564.8 954.7,1564.3 955.9,1560.3 957.1,1559.9 958.9,1551.3 960.6,1545.9 962.4,1533.4 964.1,1524.9 965.9,1520.1 967.6,1513.6 969.0,1513.8 970.5,1516.2 971.9,1519.7 973.6,1525.9 975.4,1533.7 976.3,1544.2 977.5,1544.2 978.7,1544.2 980.0,1543.6 981.2,1543.3 982.4,1542.4 983.7,1539.3 985.0,1541.5 986.4,1539.0 987.7,1536.3 988.9,1534.9 990.1,1534.0 991.4,1534.1 992.6,1530.8 993.8,1531.9 995.5,1519.7 996.8,1514.3 998.1,1507.5 999.5,1514.8 1000.8,1518.0 1002.1,1527.8 1003.4,1538.9 1004.7,1541.7 1006.0,1543.3 1007.3,1549.6 1008.6,1550.3 1010.4,1542.2 1012.1,1535.4 1013.9,1526.8 1015.6,1519.7 1017.4,1515.5 1019.1,1509.2 1020.4,1508.1 1021.7,1510.4 1023.0,1507.5 1024.3,1507.5 1025.6,1507.1 1026.9,1504.7 1028.3,1505.3 1029.6,1504.0 1031.3,1514.5 1032.7,1520.0 1034.0,1525.8 1035.4,1521.7 1036.9,1523.7 1038.3,1519.7 1039.7,1520.4 1041.1,1525.0 1042.5,1527.9 1043.9,1529.3 1045.3,1531.9 1046.6,1525.8 1047.9,1521.2 1049.2,1518.8 1050.5,1511.0 1052.0,1510.8 1053.4,1517.7 1054.9,1518.0 1056.2,1524.7 1057.5,1530.2 1058.7,1530.1 1059.9,1530.9 1061.2,1530.9 1062.4,1531.9 1063.6,1530.2 1065.4,1547.7 1066.9,1557.7 1068.3,1562.9 1069.8,1570.4 1071.0,1570.3 1072.2,1571.1 1073.5,1574.6 1074.7,1573.1 1075.9,1573.9 1077.3,1571.7 1078.7,1574.3 1080.1,1571.9 1081.5,1573.1 1082.9,1573.9 1084.1,1576.4 1085.3,1578.0 1086.6,1579.3 1087.8,1582.6 1089.0,1582.6 1090.4,1587.2 1091.9,1593.2 1093.3,1594.8 1094.6,1597.5 1095.8,1595.8 1097.1,1599.7 1098.3,1598.6 1099.6,1602.8 1100.8,1602.2 1102.1,1602.7 1103.4,1601.8 1104.7,1600.1 1106.0,1603.2 1107.3,1600.9 1108.5,1602.1 1109.7,1602.2 1111.0,1608.2 1112.2,1606.0 1113.4,1610.5 1114.8,1609.2 1116.2,1610.2 1117.6,1614.4 1119.0,1615.1 1120.4,1615.8 1121.7,1616.3 1123.0,1619.2 1124.3,1617.3 1125.7,1616.5 1127.0,1621.1 1128.3,1617.1 1129.6,1617.3 1130.9,1620.2 1132.1,1618.8 1133.3,1622.7 1134.6,1619.8 1135.8,1619.5 1137.0,1619.5 1138.2,1619.5 1139.4,1621.5 1140.7,1620.9 1141.9,1619.0 1143.1,1620.2 1144.5,1619.1 1145.9,1622.9 1147.2,1622.1 1148.6,1622.4 1150.0,1622.9 1151.3,1621.5 1152.5,1625.7 1153.8,1623.5 1155.1,1625.7 1156.4,1624.6 1157.6,1624.6 1158.9,1621.5 1160.2,1626.3 1161.5,1626.2 1162.7,1622.2 1164.0,1624.6 1165.2,1622.8 1166.4,1626.4 1167.7,1626.8 1168.9,1624.7 1170.1,1629.4 1171.3,1625.1 1172.5,1628.0 1173.8,1628.0 1175.0,1627.7 1176.2,1629.0 1177.5,1630.0 1178.7,1628.9 1180.0,1630.7 1181.3,1630.8 1182.6,1626.8 1183.8,1628.6 1185.1,1629.8 1186.4,1628.6 1187.7,1630.3 1188.9,1627.3 1190.2,1629.9 1191.5,1627.8 1192.7,1629.8 1194.0,1628.2 1195.2,1628.1 1196.5,1629.1 1197.7,1630.0 1199.0,1630.3 1200.2,1629.9 1201.5,1629.3 1202.7,1628.9 1204.0,1631.1 1205.2,1631.0 1206.5,1631.2 1207.7,1629.0 1208.9,1631.7 1210.2,1630.5 1211.4,1628.4 1212.7,1631.3 1213.9,1629.4 1215.2,1629.8 1216.4,1630.7 1217.6,1629.0 1218.9,1631.5 1220.1,1630.5 1221.4,1631.0 1222.6,1632.4 1223.9,1634.4 1225.1,1633.4 1226.3,1634.2 1227.6,1632.4 1228.8,1634.6 1230.0,1632.9 1231.3,1632.6 1232.5,1632.9 1233.7,1632.3 1235.0,1631.6 1236.2,1635.9 1237.5,1633.9 1238.7,1634.2 1239.9,1634.0 1241.2,1633.4 1242.4,1634.1 1243.6,1630.8 1244.9,1631.1 1246.1,1633.4 1247.3,1633.5 1248.6,1633.1 1249.8,1630.7 1251.1,1631.7 1252.3,1632.2 1253.6,1635.6 1254.8,1634.9 1256.1,1630.6 1257.3,1632.4 1258.6,1632.2 1259.8,1631.0 1261.1,1631.8 1262.3,1635.4 1263.6,1635.0 1264.8,1631.5 1266.1,1634.2 1267.3,1630.7 1268.6,1633.3 1269.8,1630.4 1271.1,1633.3 1272.3,1632.5 1273.5,1633.1 1274.8,1635.2 1276.0,1633.0 1277.3,1634.9 1278.5,1631.3 1279.8,1633.4 1281.0,1631.2 1282.3,1630.5 1283.5,1635.5 1284.8,1630.4 1286.0,1632.2 1287.3,1632.0 1288.5,1631.5 1289.8,1635.0 1291.0,1634.5 1292.3,1632.6 1293.5,1633.6 1294.8,1635.0 1296.0,1631.0 1297.3,1634.2 1298.5,1633.4 1299.7,1635.3 1301.0,1634.0 1302.2,1633.5 1303.5,1632.1 1304.7,1631.6 1306.0,1631.7 1307.2,1632.6 1308.5,1632.3 1309.7,1634.9 1311.0,1631.6 1312.2,1631.4 1313.5,1635.0 1314.7,1633.1 1316.0,1631.3 1317.2,1635.1 1318.5,1630.9 1319.7,1632.7 1321.0,1632.9 1322.2,1633.5 1323.5,1632.0 1324.7,1633.4 1325.9,1635.7 1327.2,1633.8 1328.4,1632.5 1329.7,1634.1 1330.9,1632.8 1332.2,1633.7 1333.4,1633.9 1334.7,1632.0 1335.9,1635.4 1337.2,1631.2 1338.4,1635.7 1339.7,1633.0 1340.9,1633.4 1342.2,1631.3 1343.4,1633.5 1344.7,1632.5 1345.9,1634.0 1347.2,1634.4 1348.4,1631.3 1349.7,1631.1 1350.9,1633.4 1352.2,1635.5 1353.4,1631.8 1354.7,1634.4 1355.9,1634.6 1357.2,1634.9 1358.4,1630.7 1359.7,1634.1 1360.9,1635.2 1362.2,1630.9 1363.4,1630.7 1364.7,1635.5 1365.9,1634.4 1367.2,1634.5 1368.4,1633.4 1369.6,1635.3 1370.9,1635.0 1372.1,1633.3 1373.4,1633.6 1374.6,1633.3 1375.9,1637.3 1377.1,1636.9 1378.5,1637.6 1379.9,1639.2 1381.3,1635.0 1382.7,1634.3 1384.1,1636.0" fill="none" stroke="#ff0000" stroke-width="7" stroke-linejoin="round" stroke-linecap="butt" shape-rendering="crispEdges"/>
<g filter="url(#crisp)"><g transform="translate(149,1793) scale(0.9684,1)"><text x="0" y="0" font-size="60" font-weight="normal" font-family='"Liberation Sans", sans-serif'>600</text></g></g>
<g filter="url(#crisp)"><g transform="translate(404,1793) scale(0.9474,1)"><text x="0" y="0" font-size="60" font-weight="normal" font-family='"Liberation Sans", sans-serif'>900</text></g></g>
<g filter="url(#crisp)"><g transform="translate(675,1793) scale(0.9579,1)"><text x="0" y="0" font-size="60" font-weight="normal" font-family='"Liberation Sans", sans-serif'>200</text></g></g>
<g filter="url(#crisp)"><g transform="translate(929,1793) scale(0.9474,1)"><text x="0" y="0" font-size="60" font-weight="normal" font-family='"Liberation Sans", sans-serif'>500</text></g></g>
<g filter="url(#crisp)"><g transform="translate(1185,1793) scale(0.9474,1)"><text x="0" y="0" font-size="60" font-weight="normal" font-family='"Liberation Sans", sans-serif'>800</text></g></g>
<polygon points="650,1762 655,1759.5 662.5,1752 665,1752 665,1793 660,1793 660,1761.5 650,1767" fill="#000"/>
<polygon points="903,1762 908,1759.5 915.5,1752 918,1752 918,1793 913,1793 913,1761.5 903,1767" fill="#000"/>
<polygon points="1159,1762 1164,1759.5 1171.5,1752 1174,1752 1174,1793 1169,1793 1169,1761.5 1159,1767" fill="#000"/>
<g filter="url(#crisp)"><g transform="translate(439,1871.5) scale(0.925,1)"><text x="0" y="0" font-size="70.27" font-weight="bold" font-family='"Liberation Sans", sans-serif'>Raman</text></g></g>
<g filter="url(#crisp)"><g transform="translate(671,1871.5) scale(0.9763,1)"><text x="0" y="0" font-size="68.4" font-weight="bold" font-family='"Liberation Sans", sans-serif'>shift</text></g></g>
<g filter="url(#crisp)"><g transform="translate(830,1871) scale(0.9804,1)"><text x="0" y="0" font-size="65.49" font-weight="bold" font-family='"Liberation Sans", sans-serif'>[cm</text></g></g>
<rect x="947" y="1826" width="11" height="5" fill="#000"/>
<polygon points="962,1817 970,1810 975,1810 975,1839 969,1839 969,1818 962,1822.5" fill="#000"/>
<g filter="url(#crisp)"><g transform="translate(980,1871) scale(0.9734,1)"><text x="0" y="0" font-size="65.49" font-weight="bold" font-family='"Liberation Sans", sans-serif'>]</text></g></g>
<g filter="url(#crisp)"><g transform="translate(78,1073) rotate(-90) scale(0.948,1)"><text x="0" y="0" font-size="68" font-weight="bold" font-family='"Liberation Sans", sans-serif'>Intensity</text></g></g>
<g filter="url(#crisp)"><g transform="translate(78,787) rotate(-90) scale(0.947,1)"><text x="0" y="0" font-size="68" font-weight="bold" font-family='"Liberation Sans", sans-serif'>[a.u.]</text></g></g>
<rect x="321" y="303" width="17" height="11" fill="#000"/>
<rect x="324" y="313" width="11" height="66" fill="#000"/>
<rect x="321" y="378" width="17" height="11" fill="#000"/>
<g filter="url(#crisp)"><g transform="translate(349,369) scale(0.9676,1)"><text x="0" y="0" font-size="60" font-weight="normal" font-family='"Liberation Sans", sans-serif'>20 kcts</text></g></g>
<g filter="url(#crisp)"><g transform="translate(1227,613) scale(1.0105,1)"><text x="0" y="0" font-size="75.3" font-weight="bold" font-family='"Liberation Sans", sans-serif'>(e)</text></g></g>
<g filter="url(#crisp)"><g transform="translate(1229,915) scale(1.0105,1)"><text x="0" y="0" font-size="75.3" font-weight="bold" font-family='"Liberation Sans", sans-serif'>(d)</text></g></g>
<g filter="url(#crisp)"><g transform="translate(1227,1173) scale(1.0105,1)"><text x="0" y="0" font-size="75.3" font-weight="bold" font-family='"Liberation Sans", sans-serif'>(c)</text></g></g>
<g filter="url(#crisp)"><g transform="translate(1227,1355) scale(1.0105,1)"><text x="0" y="0" font-size="75.3" font-weight="bold" font-family='"Liberation Sans", sans-serif'>(b)</text></g></g>
<g filter="url(#crisp)"><g transform="translate(1227,1458) scale(1.0105,1)"><text x="0" y="0" font-size="75.3" font-weight="bold" font-family='"Liberation Sans", sans-serif'>(a)</text></g></g>
<g filter="url(#crisp)"><g transform="translate(1184,1618) scale(0.9658,1)"><text x="0" y="0" font-size="67.03" font-weight="bold" font-family='"Liberation Sans", sans-serif'>blank</text></g></g></svg>
</body></html>
